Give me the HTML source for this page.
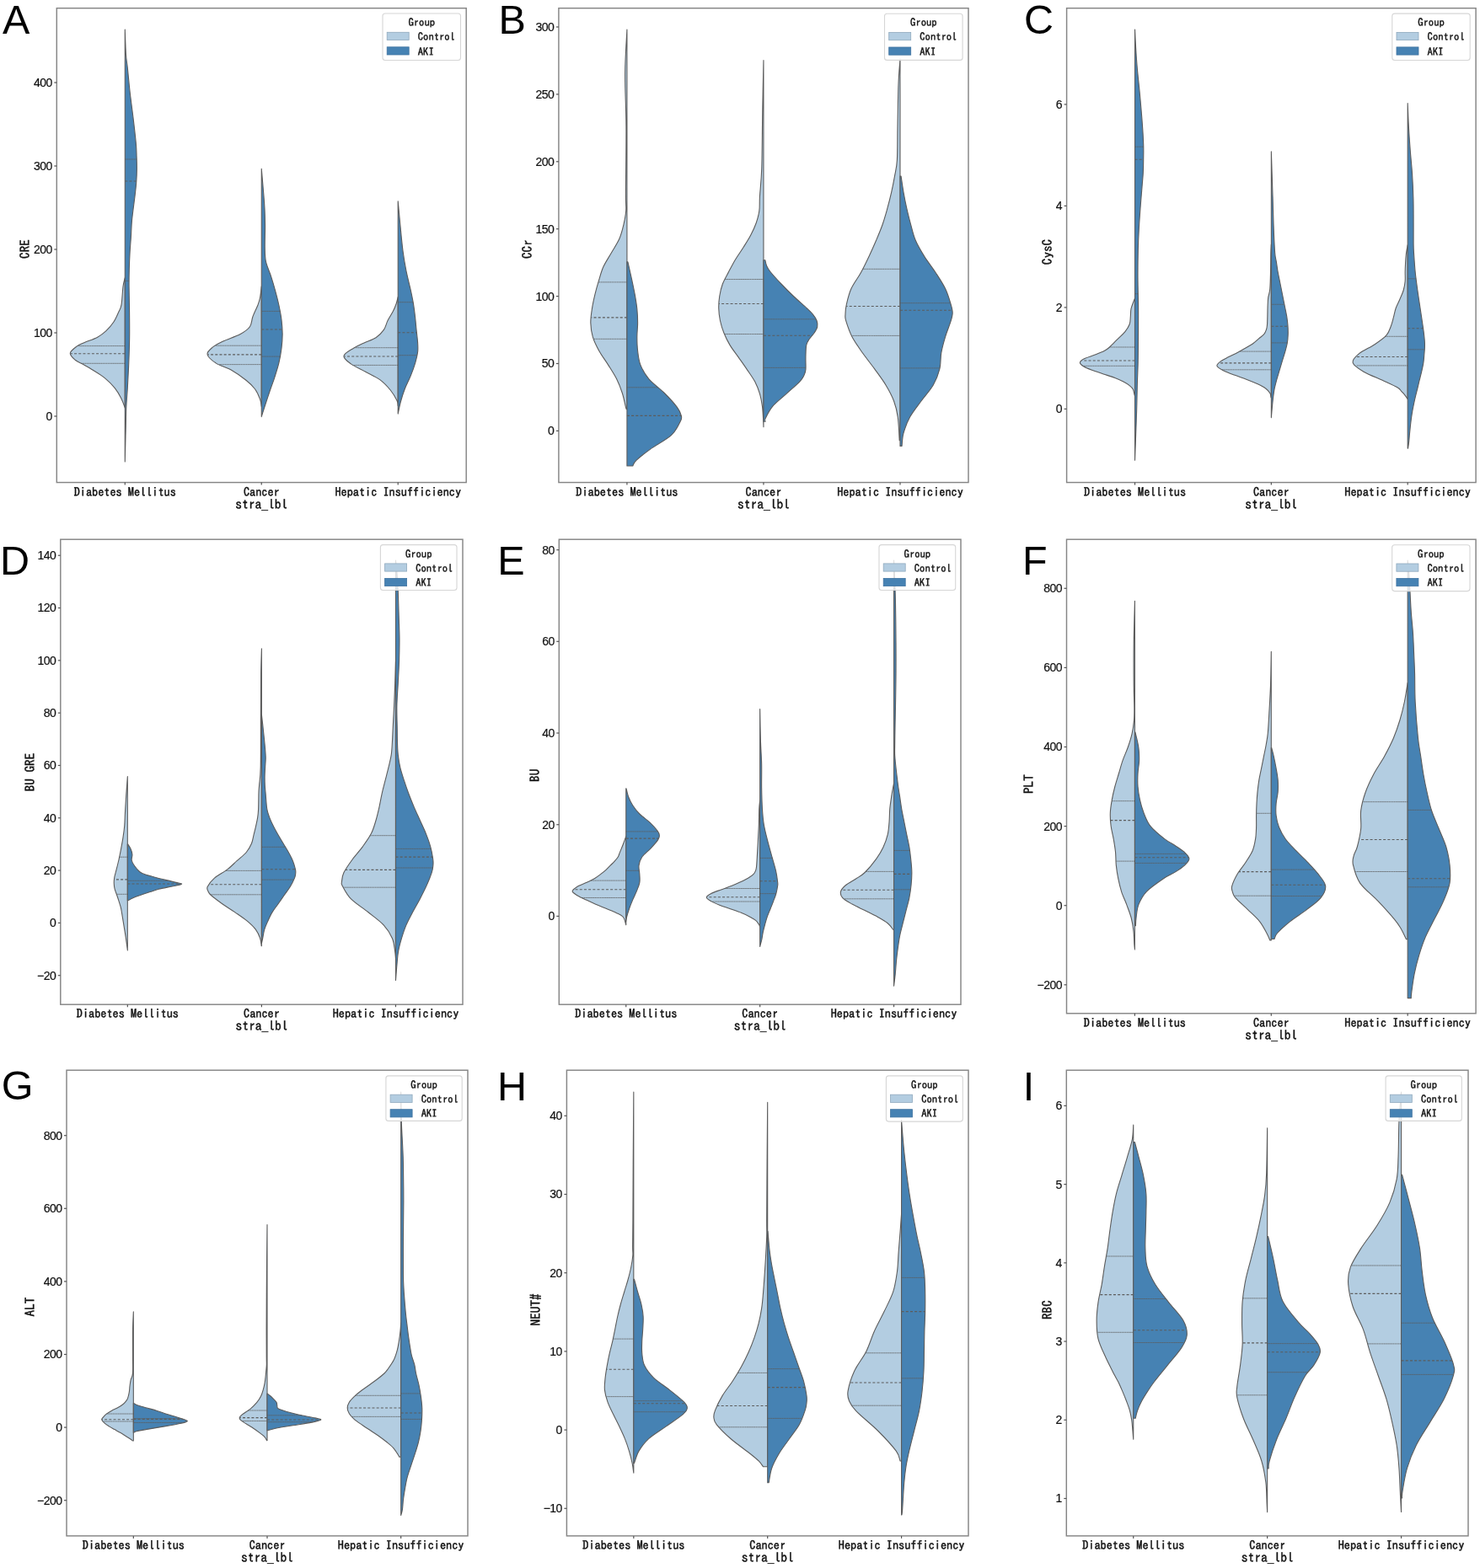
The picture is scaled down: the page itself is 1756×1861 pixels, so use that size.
<!DOCTYPE html>
<html><head><meta charset="utf-8"><title>Violin plots</title>
<style>
html,body{margin:0;padding:0;background:#fff;}
svg{display:block;}
.tk{font-family:'IPAGothic','Liberation Mono',monospace;font-size:14.25px;fill:#111;stroke:#111;stroke-width:0.45px;}
.nm{font-family:'Liberation Sans',Arial,sans-serif;font-size:14px;letter-spacing:-0.5px;fill:#111;stroke:#111;stroke-width:0.2px;}
.xl{font-family:'IPAGothic','Liberation Mono',monospace;font-size:15.5px;fill:#111;stroke:#111;stroke-width:0.45px;}
.yl{font-family:'IPAGothic','Liberation Mono',monospace;font-size:15.2px;fill:#111;stroke:#111;stroke-width:0.45px;}
.lg{font-family:'IPAGothic','Liberation Mono',monospace;font-size:12.6px;fill:#111;stroke:#111;stroke-width:0.4px;}
.pl{font-family:'Liberation Sans',Arial,sans-serif;font-size:48.5px;fill:#000;}
</style></head><body>
<svg width="1756" height="1861" viewBox="0 0 1756 1861" xmlns="http://www.w3.org/2000/svg">
<rect width="1756" height="1861" fill="#fff"/>
<path d="M148.28,329.70 L148.28,329.70 C147.90,331.45 146.68,334.93 145.98,340.20 C145.28,345.47 144.95,356.28 144.08,361.30 C143.22,366.32 142.33,366.80 140.78,370.30 C139.23,373.80 137.30,378.53 134.78,382.30 C132.27,386.07 128.93,389.88 125.68,392.90 C122.43,395.92 119.52,398.15 115.28,400.40 C111.05,402.65 104.28,404.65 100.28,406.40 C96.28,408.15 94.12,408.77 91.28,410.90 C88.45,413.03 83.57,416.43 83.28,419.20 C83.00,421.97 87.15,425.37 89.58,427.50 C92.02,429.63 94.37,430.00 97.88,432.00 C101.40,434.00 106.28,436.73 110.68,439.50 C115.08,442.27 120.02,445.08 124.28,448.60 C128.55,452.12 133.03,456.58 136.28,460.60 C139.53,464.62 141.78,468.80 143.78,472.70 C145.78,476.60 147.53,482.12 148.28,484.00 L148.28,484.00 Z" fill="#b3cde1" stroke="#5c5c5c" stroke-width="1.1" stroke-linejoin="round"/>
<path d="M148.28,35.00 L148.28,35.00 C148.48,40.03 148.98,57.67 149.48,65.20 C149.98,72.73 150.48,72.68 151.28,80.20 C152.08,87.72 153.15,100.27 154.28,110.30 C155.42,120.33 156.90,130.37 158.08,140.40 C159.27,150.43 160.72,162.97 161.38,170.50 C162.05,178.03 161.92,180.58 162.08,185.60 C162.25,190.62 162.43,195.58 162.38,200.60 C162.33,205.62 162.13,210.68 161.78,215.70 C161.43,220.72 161.15,223.18 160.28,230.70 C159.42,238.22 157.38,252.58 156.58,260.80 C155.78,269.02 155.90,273.47 155.48,280.00 C155.07,286.53 154.45,293.33 154.08,300.00 C153.72,306.67 153.45,313.30 153.28,320.00 C153.12,326.70 153.03,331.82 153.08,340.20 C153.13,348.58 153.48,360.27 153.58,370.30 C153.68,380.33 153.82,390.37 153.68,400.40 C153.55,410.43 153.18,420.47 152.78,430.50 C152.38,440.53 151.78,451.82 151.28,460.60 C150.78,469.38 150.12,475.67 149.78,483.20 C149.45,490.73 149.53,495.02 149.28,505.80 C149.03,516.58 148.45,540.88 148.28,547.90 L148.28,547.90 Z" fill="#4682b3" stroke="#5c5c5c" stroke-width="1.1" stroke-linejoin="round"/>
<line x1="148.28" y1="410.60" x2="91.88" y2="410.60" stroke="#5c5c5c" stroke-width="1" stroke-dasharray="1.6 0.5" opacity="0.8"/><line x1="148.28" y1="419.70" x2="83.66" y2="419.70" stroke="#5c5c5c" stroke-width="1.1" stroke-dasharray="3 2.2"/><line x1="148.28" y1="431.30" x2="96.59" y2="431.30" stroke="#5c5c5c" stroke-width="1" stroke-dasharray="1.6 0.5" opacity="0.8"/>
<line x1="148.28" y1="189.00" x2="162.15" y2="189.00" stroke="#5c5c5c" stroke-width="1" stroke-dasharray="1.6 0.5" opacity="0.8"/><line x1="148.28" y1="215.00" x2="161.81" y2="215.00" stroke="#5c5c5c" stroke-width="1.1" stroke-dasharray="3 2.2"/><line x1="148.28" y1="333.40" x2="153.15" y2="333.40" stroke="#5c5c5c" stroke-width="1" stroke-dasharray="1.6 0.5" opacity="0.8"/>
<path d="M310.25,339.70 L310.25,339.70 C309.97,341.98 309.27,349.68 308.55,353.40 C307.83,357.12 307.38,358.27 305.95,362.00 C304.52,365.73 301.53,371.50 299.95,375.80 C298.37,380.10 298.90,384.35 296.45,387.80 C294.00,391.25 290.55,393.63 285.25,396.50 C279.95,399.37 270.08,402.43 264.65,405.00 C259.22,407.57 255.75,409.32 252.65,411.90 C249.55,414.48 245.48,417.33 246.05,420.50 C246.62,423.67 251.23,427.73 256.05,430.90 C260.87,434.07 268.92,436.07 274.95,439.50 C280.98,442.93 287.65,447.78 292.25,451.50 C296.85,455.22 299.83,458.07 302.55,461.80 C305.27,465.53 307.27,470.45 308.55,473.90 C309.83,477.35 309.97,481.07 310.25,482.50 L310.25,482.50 Z" fill="#b3cde1" stroke="#5c5c5c" stroke-width="1.1" stroke-linejoin="round"/>
<path d="M310.25,200.30 L310.25,200.30 C310.82,207.18 312.93,230.42 313.65,241.60 C314.37,252.78 314.45,258.80 314.55,267.40 C314.65,276.00 314.10,286.03 314.25,293.20 C314.40,300.37 314.25,304.67 315.45,310.40 C316.65,316.13 319.60,321.87 321.45,327.60 C323.30,333.33 324.98,339.07 326.55,344.80 C328.12,350.53 329.62,356.27 330.85,362.00 C332.08,367.73 333.23,373.45 333.95,379.20 C334.67,384.95 335.15,390.75 335.15,396.50 C335.15,402.25 334.67,407.97 333.95,413.70 C333.23,419.43 332.22,425.17 330.85,430.90 C329.48,436.63 327.60,442.37 325.75,448.10 C323.90,453.83 321.70,459.57 319.75,465.30 C317.80,471.03 315.63,477.62 314.05,482.50 C312.47,487.38 310.88,492.58 310.25,494.60 L310.25,494.60 Z" fill="#4682b3" stroke="#5c5c5c" stroke-width="1.1" stroke-linejoin="round"/>
<line x1="310.25" y1="410.20" x2="255.61" y2="410.20" stroke="#5c5c5c" stroke-width="1" stroke-dasharray="1.6 0.5" opacity="0.8"/><line x1="310.25" y1="420.90" x2="246.43" y2="420.90" stroke="#5c5c5c" stroke-width="1.1" stroke-dasharray="3 2.2"/><line x1="310.25" y1="432.60" x2="259.79" y2="432.60" stroke="#5c5c5c" stroke-width="1" stroke-dasharray="1.6 0.5" opacity="0.8"/>
<line x1="310.25" y1="369.40" x2="332.18" y2="369.40" stroke="#5c5c5c" stroke-width="1" stroke-dasharray="1.6 0.5" opacity="0.8"/><line x1="310.25" y1="391.00" x2="334.77" y2="391.00" stroke="#5c5c5c" stroke-width="1.1" stroke-dasharray="3 2.2"/><line x1="310.25" y1="423.10" x2="332.26" y2="423.10" stroke="#5c5c5c" stroke-width="1" stroke-dasharray="1.6 0.5" opacity="0.8"/>
<path d="M472.22,352.40 L472.22,352.40 C471.88,353.70 471.20,357.33 470.22,360.20 C469.23,363.07 468.02,366.22 466.32,369.60 C464.62,372.98 461.83,376.87 460.02,380.50 C458.20,384.13 457.75,388.03 455.42,391.40 C453.08,394.77 449.92,398.12 446.02,400.70 C442.12,403.28 436.43,404.82 432.02,406.90 C427.60,408.98 423.53,410.60 419.52,413.20 C415.50,415.80 408.43,419.38 407.92,422.50 C407.40,425.62 412.13,428.78 416.42,431.90 C420.70,435.02 427.90,438.08 433.62,441.20 C439.33,444.32 445.78,446.97 450.72,450.60 C455.65,454.23 459.83,458.85 463.22,463.00 C466.60,467.15 469.52,472.38 471.02,475.50 C472.52,478.62 472.02,480.67 472.22,481.70 L472.22,481.70 Z" fill="#b3cde1" stroke="#5c5c5c" stroke-width="1.1" stroke-linejoin="round"/>
<path d="M472.22,238.70 L472.22,238.70 C472.65,243.37 473.85,256.83 474.82,266.70 C475.78,276.57 476.83,288.80 478.02,297.90 C479.20,307.00 480.37,313.52 481.92,321.30 C483.47,329.08 485.90,338.12 487.32,344.60 C488.73,351.08 489.55,355.00 490.42,360.20 C491.28,365.40 491.92,370.60 492.52,375.80 C493.12,381.00 493.50,386.22 494.02,391.40 C494.53,396.58 495.35,402.50 495.62,406.90 C495.88,411.30 496.08,413.90 495.62,417.80 C495.15,421.70 494.20,425.62 492.82,430.30 C491.43,434.98 489.40,440.70 487.32,445.90 C485.23,451.10 482.32,456.32 480.32,461.50 C478.32,466.68 476.67,472.07 475.32,477.00 C473.97,481.93 472.73,488.75 472.22,491.10 L472.22,491.10 Z" fill="#4682b3" stroke="#5c5c5c" stroke-width="1.1" stroke-linejoin="round"/>
<line x1="472.22" y1="412.70" x2="420.51" y2="412.70" stroke="#5c5c5c" stroke-width="1" stroke-dasharray="1.6 0.5" opacity="0.8"/><line x1="472.22" y1="423.00" x2="408.37" y2="423.00" stroke="#5c5c5c" stroke-width="1.1" stroke-dasharray="3 2.2"/><line x1="472.22" y1="433.40" x2="419.19" y2="433.40" stroke="#5c5c5c" stroke-width="1" stroke-dasharray="1.6 0.5" opacity="0.8"/>
<line x1="472.22" y1="358.70" x2="490.12" y2="358.70" stroke="#5c5c5c" stroke-width="1" stroke-dasharray="1.6 0.5" opacity="0.8"/><line x1="472.22" y1="394.80" x2="494.37" y2="394.80" stroke="#5c5c5c" stroke-width="1.1" stroke-dasharray="3 2.2"/><line x1="472.22" y1="421.70" x2="494.74" y2="421.70" stroke="#5c5c5c" stroke-width="1" stroke-dasharray="1.6 0.5" opacity="0.8"/>
<rect x="67.30" y="9.70" width="485.90" height="562.90" fill="none" stroke="#858585" stroke-width="1.45"/>
<line x1="64.30" y1="494.00" x2="67.30" y2="494.00" stroke="#555" stroke-width="1.2"/>
<text x="61.80" y="498.90" text-anchor="end" class="nm">0</text>
<line x1="64.30" y1="395.00" x2="67.30" y2="395.00" stroke="#555" stroke-width="1.2"/>
<text x="61.80" y="399.90" text-anchor="end" class="nm">100</text>
<line x1="64.30" y1="296.00" x2="67.30" y2="296.00" stroke="#555" stroke-width="1.2"/>
<text x="61.80" y="300.90" text-anchor="end" class="nm">200</text>
<line x1="64.30" y1="197.00" x2="67.30" y2="197.00" stroke="#555" stroke-width="1.2"/>
<text x="61.80" y="201.90" text-anchor="end" class="nm">300</text>
<line x1="64.30" y1="98.00" x2="67.30" y2="98.00" stroke="#555" stroke-width="1.2"/>
<text x="61.80" y="102.90" text-anchor="end" class="nm">400</text>
<line x1="148.28" y1="572.60" x2="148.28" y2="575.60" stroke="#555" stroke-width="1.2"/>
<text x="148.28" y="588.50" text-anchor="middle" class="tk">Diabetes Mellitus</text>
<line x1="310.25" y1="572.60" x2="310.25" y2="575.60" stroke="#555" stroke-width="1.2"/>
<text x="310.25" y="588.50" text-anchor="middle" class="tk">Cancer</text>
<line x1="472.22" y1="572.60" x2="472.22" y2="575.60" stroke="#555" stroke-width="1.2"/>
<text x="472.22" y="588.50" text-anchor="middle" class="tk">Hepatic Insufficiency</text>
<text x="310.25" y="603.60" text-anchor="middle" class="xl">stra_lbl</text>
<text transform="translate(34.50,295.50) rotate(-90)" text-anchor="middle" class="yl">CRE</text>
<rect x="454.00" y="16.00" width="92.50" height="55.50" rx="3" ry="3" fill="#fff" fill-opacity="0.8" stroke="#d6d6d6" stroke-width="1.1"/>
<text x="500.25" y="31.20" text-anchor="middle" class="lg">Group</text>
<rect x="459.20" y="38.30" width="26" height="9.2" fill="#b3cde1" stroke="#8fa9bd" stroke-width="0.8"/>
<rect x="459.20" y="55.80" width="26" height="9.2" fill="#4682b3" stroke="#3f73a0" stroke-width="0.8"/>
<text x="495.80" y="48.20" class="lg">Control</text>
<text x="495.80" y="65.50" class="lg">AKI</text>
<text x="3.00" y="40.40" class="pl">A</text>
<path d="M743.92,35.00 L743.92,35.00 C743.53,43.67 741.78,67.83 741.62,87.00 C741.45,106.17 742.78,126.17 742.92,150.00 C743.05,173.83 742.45,213.33 742.42,230.00 C742.38,246.67 743.13,243.88 742.72,250.00 C742.30,256.12 741.22,261.15 739.92,266.70 C738.62,272.25 737.33,277.75 734.92,283.30 C732.50,288.85 728.58,294.45 725.42,300.00 C722.25,305.55 718.42,311.07 715.92,316.60 C713.42,322.13 712.10,327.65 710.42,333.20 C708.73,338.75 707.15,344.33 705.82,349.90 C704.48,355.47 703.25,361.05 702.42,366.60 C701.58,372.15 700.67,377.65 700.82,383.20 C700.97,388.75 701.65,394.35 703.32,399.90 C704.98,405.45 707.77,410.97 710.82,416.50 C713.87,422.03 718.15,427.55 721.62,433.10 C725.08,438.65 728.83,444.23 731.62,449.80 C734.40,455.37 736.52,460.95 738.32,466.50 C740.12,472.05 741.62,479.92 742.42,483.10 C743.22,486.28 743.00,485.18 743.12,485.60 L743.92,485.60 Z" fill="#b3cde1" stroke="#5c5c5c" stroke-width="1.1" stroke-linejoin="round"/>
<path d="M743.92,310.80 L744.92,310.80 C745.75,314.53 748.52,326.68 749.92,333.20 C751.32,339.72 752.33,344.33 753.32,349.90 C754.30,355.47 755.27,361.05 755.82,366.60 C756.37,372.15 756.62,377.65 756.62,383.20 C756.62,388.75 755.82,394.35 755.82,399.90 C755.82,405.45 755.93,410.97 756.62,416.50 C757.30,422.03 757.70,427.55 759.92,433.10 C762.13,438.65 765.18,444.23 769.92,449.80 C774.65,455.37 782.77,460.95 788.32,466.50 C793.87,472.05 799.90,478.67 803.22,483.10 C806.53,487.53 807.52,490.32 808.22,493.10 C808.92,495.88 809.35,495.92 807.42,499.80 C805.48,503.68 802.58,510.85 796.62,516.40 C790.65,521.95 778.57,528.10 771.62,533.10 C764.67,538.10 758.38,543.08 754.92,546.40 C751.45,549.72 751.50,551.90 750.82,553.00 L743.92,553.00 Z" fill="#4682b3" stroke="#5c5c5c" stroke-width="1.1" stroke-linejoin="round"/>
<line x1="743.92" y1="334.90" x2="709.95" y2="334.90" stroke="#5c5c5c" stroke-width="1" stroke-dasharray="1.6 0.5" opacity="0.8"/><line x1="743.92" y1="376.90" x2="701.42" y2="376.90" stroke="#5c5c5c" stroke-width="1.1" stroke-dasharray="3 2.2"/><line x1="743.92" y1="402.30" x2="704.40" y2="402.30" stroke="#5c5c5c" stroke-width="1" stroke-dasharray="1.6 0.5" opacity="0.8"/>
<line x1="743.92" y1="459.80" x2="780.93" y2="459.80" stroke="#5c5c5c" stroke-width="1" stroke-dasharray="1.6 0.5" opacity="0.8"/><line x1="743.92" y1="493.40" x2="808.18" y2="493.40" stroke="#5c5c5c" stroke-width="1.1" stroke-dasharray="3 2.2"/>
<path d="M905.95,71.60 L905.95,71.60 C905.75,81.83 905.12,111.60 904.75,133.00 C904.38,154.40 904.30,183.33 903.75,200.00 C903.20,216.67 901.93,224.67 901.45,233.00 C900.97,241.33 901.55,244.75 900.85,250.00 C900.15,255.25 898.93,259.67 897.25,264.50 C895.57,269.33 893.28,274.17 890.75,279.00 C888.22,283.83 885.08,288.67 882.05,293.50 C879.02,298.33 875.45,303.17 872.55,308.00 C869.65,312.83 867.18,317.67 864.65,322.50 C862.12,327.33 859.17,332.17 857.35,337.00 C855.53,341.83 854.52,346.67 853.75,351.50 C852.98,356.33 852.63,361.17 852.75,366.00 C852.87,370.83 853.43,375.67 854.45,380.50 C855.47,385.33 856.92,390.15 858.85,395.00 C860.78,399.85 863.15,404.75 866.05,409.60 C868.95,414.45 872.87,419.27 876.25,424.10 C879.63,428.93 883.10,433.77 886.35,438.60 C889.60,443.43 893.22,448.27 895.75,453.10 C898.28,457.93 900.10,462.77 901.55,467.60 C903.00,472.43 903.78,477.27 904.45,482.10 C905.12,486.93 905.30,492.50 905.55,496.60 C905.80,500.70 905.88,505.02 905.95,506.70 L905.95,506.70 Z" fill="#b3cde1" stroke="#5c5c5c" stroke-width="1.1" stroke-linejoin="round"/>
<path d="M905.95,308.70 L907.85,308.70 C908.13,309.80 908.53,313.00 909.55,315.30 C910.57,317.60 911.05,318.88 913.95,322.50 C916.85,326.12 922.37,332.17 926.95,337.00 C931.53,341.83 936.37,346.67 941.45,351.50 C946.53,356.33 953.58,362.37 957.45,366.00 C961.32,369.63 962.72,370.88 964.65,373.30 C966.58,375.72 968.20,378.08 969.05,380.50 C969.90,382.92 970.23,385.38 969.75,387.80 C969.27,390.22 967.72,392.58 966.15,395.00 C964.58,397.42 961.92,399.87 960.35,402.30 C958.78,404.73 957.48,405.97 956.75,409.60 C956.02,413.23 956.08,419.27 955.95,424.10 C955.82,428.93 956.30,434.98 955.95,438.60 C955.60,442.22 955.05,443.38 953.85,445.80 C952.65,448.22 952.27,449.47 948.75,453.10 C945.23,456.73 938.07,462.77 932.75,467.60 C927.43,472.43 920.95,477.27 916.85,482.10 C912.75,486.93 909.60,493.58 908.15,496.60 C906.70,499.62 908.15,499.60 908.15,500.20 L905.95,500.20 Z" fill="#4682b3" stroke="#5c5c5c" stroke-width="1.1" stroke-linejoin="round"/>
<line x1="905.95" y1="331.50" x2="860.12" y2="331.50" stroke="#5c5c5c" stroke-width="1" stroke-dasharray="1.6 0.5" opacity="0.8"/><line x1="905.95" y1="360.50" x2="853.13" y2="360.50" stroke="#5c5c5c" stroke-width="1.1" stroke-dasharray="3 2.2"/><line x1="905.95" y1="396.50" x2="859.59" y2="396.50" stroke="#5c5c5c" stroke-width="1" stroke-dasharray="1.6 0.5" opacity="0.8"/>
<line x1="905.95" y1="378.80" x2="968.01" y2="378.80" stroke="#5c5c5c" stroke-width="1" stroke-dasharray="1.6 0.5" opacity="0.8"/><line x1="905.95" y1="398.20" x2="963.61" y2="398.20" stroke="#5c5c5c" stroke-width="1.1" stroke-dasharray="3 2.2"/><line x1="905.95" y1="436.40" x2="955.95" y2="436.40" stroke="#5c5c5c" stroke-width="1" stroke-dasharray="1.6 0.5" opacity="0.8"/>
<path d="M1067.98,70.00 L1067.98,70.00 C1067.65,75.00 1066.48,86.67 1065.98,100.00 C1065.48,113.33 1065.25,135.00 1064.98,150.00 C1064.72,165.00 1064.97,180.15 1064.38,190.00 C1063.80,199.85 1062.60,202.75 1061.48,209.10 C1060.37,215.45 1059.12,221.75 1057.68,228.10 C1056.25,234.45 1054.63,240.83 1052.88,247.20 C1051.13,253.57 1049.40,259.95 1047.18,266.30 C1044.97,272.65 1042.28,278.95 1039.58,285.30 C1036.88,291.65 1034.00,298.03 1030.98,304.40 C1027.97,310.77 1024.98,317.13 1021.48,323.50 C1017.98,329.87 1012.85,336.25 1009.98,342.60 C1007.12,348.95 1005.45,356.52 1004.28,361.60 C1003.12,366.68 1003.08,369.92 1002.98,373.10 C1002.88,376.28 1002.35,376.25 1003.68,380.70 C1005.02,385.15 1007.70,393.45 1010.98,399.80 C1014.27,406.15 1018.93,412.45 1023.38,418.80 C1027.83,425.15 1033.08,431.53 1037.68,437.90 C1042.28,444.27 1047.17,450.65 1050.98,457.00 C1054.80,463.35 1058.20,469.65 1060.58,476.00 C1062.97,482.35 1064.18,487.30 1065.28,495.10 C1066.38,502.90 1066.87,518.18 1067.18,522.80 L1067.98,522.80 Z" fill="#b3cde1" stroke="#5c5c5c" stroke-width="1.1" stroke-linejoin="round"/>
<path d="M1067.98,209.10 L1069.08,209.10 C1069.57,212.27 1070.87,221.75 1071.98,228.10 C1073.10,234.45 1074.35,240.83 1075.78,247.20 C1077.22,253.57 1078.83,259.95 1080.58,266.30 C1082.33,272.65 1083.58,278.95 1086.28,285.30 C1088.98,291.65 1092.82,298.03 1096.78,304.40 C1100.75,310.77 1105.95,317.13 1110.08,323.50 C1114.22,329.87 1118.55,336.25 1121.58,342.60 C1124.62,348.95 1126.85,356.83 1128.28,361.60 C1129.72,366.37 1130.18,368.02 1130.18,371.20 C1130.18,374.38 1129.72,375.93 1128.28,380.70 C1126.85,385.47 1123.50,393.45 1121.58,399.80 C1119.67,406.15 1117.90,412.45 1116.78,418.80 C1115.67,425.15 1116.47,431.53 1114.88,437.90 C1113.30,444.27 1110.93,450.65 1107.28,457.00 C1103.63,463.35 1097.60,469.65 1092.98,476.00 C1088.37,482.35 1083.08,488.73 1079.58,495.10 C1076.08,501.47 1073.57,508.48 1071.98,514.20 C1070.40,519.92 1070.40,526.87 1070.08,529.40 L1067.98,529.40 Z" fill="#4682b3" stroke="#5c5c5c" stroke-width="1.1" stroke-linejoin="round"/>
<line x1="1067.98" y1="319.30" x2="1023.57" y2="319.30" stroke="#5c5c5c" stroke-width="1" stroke-dasharray="1.6 0.5" opacity="0.8"/><line x1="1067.98" y1="363.50" x2="1004.07" y2="363.50" stroke="#5c5c5c" stroke-width="1.1" stroke-dasharray="3 2.2"/><line x1="1067.98" y1="398.40" x2="1010.45" y2="398.40" stroke="#5c5c5c" stroke-width="1" stroke-dasharray="1.6 0.5" opacity="0.8"/>
<line x1="1067.98" y1="359.70" x2="1127.61" y2="359.70" stroke="#5c5c5c" stroke-width="1" stroke-dasharray="1.6 0.5" opacity="0.8"/><line x1="1067.98" y1="368.30" x2="1129.61" y2="368.30" stroke="#5c5c5c" stroke-width="1.1" stroke-dasharray="3 2.2"/><line x1="1067.98" y1="436.90" x2="1114.98" y2="436.90" stroke="#5c5c5c" stroke-width="1" stroke-dasharray="1.6 0.5" opacity="0.8"/>
<rect x="662.90" y="9.70" width="486.10" height="562.90" fill="none" stroke="#858585" stroke-width="1.45"/>
<line x1="659.90" y1="511.40" x2="662.90" y2="511.40" stroke="#555" stroke-width="1.2"/>
<text x="657.40" y="516.30" text-anchor="end" class="nm">0</text>
<line x1="659.90" y1="431.50" x2="662.90" y2="431.50" stroke="#555" stroke-width="1.2"/>
<text x="657.40" y="436.40" text-anchor="end" class="nm">50</text>
<line x1="659.90" y1="351.60" x2="662.90" y2="351.60" stroke="#555" stroke-width="1.2"/>
<text x="657.40" y="356.50" text-anchor="end" class="nm">100</text>
<line x1="659.90" y1="271.70" x2="662.90" y2="271.70" stroke="#555" stroke-width="1.2"/>
<text x="657.40" y="276.60" text-anchor="end" class="nm">150</text>
<line x1="659.90" y1="191.80" x2="662.90" y2="191.80" stroke="#555" stroke-width="1.2"/>
<text x="657.40" y="196.70" text-anchor="end" class="nm">200</text>
<line x1="659.90" y1="111.90" x2="662.90" y2="111.90" stroke="#555" stroke-width="1.2"/>
<text x="657.40" y="116.80" text-anchor="end" class="nm">250</text>
<line x1="659.90" y1="32.00" x2="662.90" y2="32.00" stroke="#555" stroke-width="1.2"/>
<text x="657.40" y="36.90" text-anchor="end" class="nm">300</text>
<line x1="743.92" y1="572.60" x2="743.92" y2="575.60" stroke="#555" stroke-width="1.2"/>
<text x="743.92" y="588.50" text-anchor="middle" class="tk">Diabetes Mellitus</text>
<line x1="905.95" y1="572.60" x2="905.95" y2="575.60" stroke="#555" stroke-width="1.2"/>
<text x="905.95" y="588.50" text-anchor="middle" class="tk">Cancer</text>
<line x1="1067.98" y1="572.60" x2="1067.98" y2="575.60" stroke="#555" stroke-width="1.2"/>
<text x="1067.98" y="588.50" text-anchor="middle" class="tk">Hepatic Insufficiency</text>
<text x="905.95" y="603.60" text-anchor="middle" class="xl">stra_lbl</text>
<text transform="translate(631.00,295.70) rotate(-90)" text-anchor="middle" class="yl">CCr</text>
<rect x="1049.50" y="16.20" width="92.60" height="55.20" rx="3" ry="3" fill="#fff" fill-opacity="0.8" stroke="#d6d6d6" stroke-width="1.1"/>
<text x="1095.80" y="31.40" text-anchor="middle" class="lg">Group</text>
<rect x="1054.70" y="38.50" width="26" height="9.2" fill="#b3cde1" stroke="#8fa9bd" stroke-width="0.8"/>
<rect x="1054.70" y="56.00" width="26" height="9.2" fill="#4682b3" stroke="#3f73a0" stroke-width="0.8"/>
<text x="1091.30" y="48.40" class="lg">Control</text>
<text x="1091.30" y="65.70" class="lg">AKI</text>
<text x="591.50" y="40.40" class="pl">B</text>
<path d="M1346.52,354.10 L1346.52,354.10 C1346.30,354.63 1345.97,355.25 1345.22,357.30 C1344.47,359.35 1342.67,363.35 1342.02,366.40 C1341.37,369.45 1341.62,372.55 1341.32,375.60 C1341.02,378.65 1341.32,381.67 1340.22,384.70 C1339.12,387.73 1337.15,390.77 1334.72,393.80 C1332.28,396.83 1328.65,399.87 1325.62,402.90 C1322.58,405.93 1319.10,409.72 1316.52,412.00 C1313.93,414.28 1313.00,415.08 1310.12,416.60 C1307.23,418.12 1303.17,419.58 1299.22,421.10 C1295.27,422.62 1289.38,424.18 1286.42,425.70 C1283.45,427.22 1281.57,428.68 1281.42,430.20 C1281.27,431.72 1283.17,433.28 1285.52,434.80 C1287.87,436.32 1291.57,437.78 1295.52,439.30 C1299.47,440.82 1304.67,442.37 1309.22,443.90 C1313.77,445.43 1318.87,446.98 1322.82,448.50 C1326.77,450.02 1330.02,451.48 1332.92,453.00 C1335.82,454.52 1338.32,456.08 1340.22,457.60 C1342.12,459.12 1343.32,460.13 1344.32,462.10 C1345.32,464.07 1345.90,468.18 1346.22,469.40 L1346.52,469.40 Z" fill="#b3cde1" stroke="#5c5c5c" stroke-width="1.1" stroke-linejoin="round"/>
<path d="M1346.52,35.00 L1346.52,35.00 C1346.68,38.33 1347.07,47.50 1347.52,55.00 C1347.97,62.50 1348.38,70.28 1349.22,80.00 C1350.05,89.72 1351.50,102.18 1352.52,113.30 C1353.53,124.42 1354.62,136.97 1355.32,146.70 C1356.02,156.43 1356.48,164.77 1356.72,171.70 C1356.95,178.63 1356.78,182.75 1356.72,188.30 C1356.65,193.85 1356.60,199.43 1356.32,205.00 C1356.03,210.57 1355.57,214.75 1355.02,221.70 C1354.47,228.65 1353.63,238.37 1353.02,246.70 C1352.40,255.03 1351.77,263.37 1351.32,271.70 C1350.87,280.03 1350.53,286.98 1350.32,296.70 C1350.10,306.42 1349.97,318.45 1350.02,330.00 C1350.07,341.55 1350.53,354.33 1350.62,366.00 C1350.70,377.67 1350.58,389.33 1350.52,400.00 C1350.45,410.67 1350.42,420.50 1350.22,430.00 C1350.02,439.50 1349.55,448.67 1349.32,457.00 C1349.08,465.33 1349.00,472.83 1348.82,480.00 C1348.63,487.17 1348.60,488.95 1348.22,500.00 C1347.83,511.05 1346.80,538.58 1346.52,546.30 L1346.52,546.30 Z" fill="#4682b3" stroke="#5c5c5c" stroke-width="1.1" stroke-linejoin="round"/>
<line x1="1346.52" y1="412.00" x2="1316.52" y2="412.00" stroke="#5c5c5c" stroke-width="1" stroke-dasharray="1.6 0.5" opacity="0.8"/><line x1="1346.52" y1="428.00" x2="1283.86" y2="428.00" stroke="#5c5c5c" stroke-width="1.1" stroke-dasharray="3 2.2"/><line x1="1346.52" y1="434.30" x2="1285.07" y2="434.30" stroke="#5c5c5c" stroke-width="1" stroke-dasharray="1.6 0.5" opacity="0.8"/>
<line x1="1346.52" y1="174.20" x2="1356.72" y2="174.20" stroke="#5c5c5c" stroke-width="1" stroke-dasharray="1.6 0.5" opacity="0.8"/><line x1="1346.52" y1="189.20" x2="1356.70" y2="189.20" stroke="#5c5c5c" stroke-width="1.1" stroke-dasharray="3 2.2"/><line x1="1346.52" y1="348.70" x2="1350.33" y2="348.70" stroke="#5c5c5c" stroke-width="1" stroke-dasharray="1.6 0.5" opacity="0.8"/>
<path d="M1508.35,290.00 L1508.35,290.00 C1508.27,291.67 1507.98,294.75 1507.85,300.00 C1507.72,305.25 1507.73,314.33 1507.55,321.50 C1507.37,328.67 1507.23,337.63 1506.75,343.00 C1506.27,348.37 1505.10,350.12 1504.65,353.70 C1504.20,357.28 1504.18,360.92 1504.05,364.50 C1503.92,368.08 1503.95,371.62 1503.85,375.20 C1503.75,378.78 1503.68,383.32 1503.45,386.00 C1503.22,388.68 1503.07,389.52 1502.45,391.30 C1501.83,393.08 1501.27,394.90 1499.75,396.70 C1498.23,398.50 1495.48,400.30 1493.35,402.10 C1491.22,403.90 1489.45,405.72 1486.95,407.50 C1484.45,409.28 1481.40,411.02 1478.35,412.80 C1475.30,414.58 1472.07,416.40 1468.65,418.20 C1465.23,420.00 1461.25,421.82 1457.85,423.60 C1454.45,425.38 1450.57,427.12 1448.25,428.90 C1445.93,430.68 1443.42,432.50 1443.95,434.30 C1444.48,436.10 1448.05,437.90 1451.45,439.70 C1454.85,441.50 1459.70,443.32 1464.35,445.10 C1469.00,446.88 1474.70,448.62 1479.35,450.40 C1484.00,452.18 1488.48,454.00 1492.25,455.80 C1496.02,457.60 1499.53,459.40 1501.95,461.20 C1504.37,463.00 1505.73,464.82 1506.75,466.60 C1507.77,468.38 1507.83,471.02 1508.05,471.90 L1508.35,471.90 Z" fill="#b3cde1" stroke="#5c5c5c" stroke-width="1.1" stroke-linejoin="round"/>
<path d="M1508.35,179.90 L1508.35,179.90 C1508.63,188.78 1509.58,218.18 1510.05,233.20 C1510.52,248.22 1510.72,258.87 1511.15,270.00 C1511.58,281.13 1512.12,293.22 1512.65,300.00 C1513.18,306.78 1513.80,307.12 1514.35,310.70 C1514.90,314.28 1515.33,317.92 1515.95,321.50 C1516.57,325.08 1517.33,328.62 1518.05,332.20 C1518.77,335.78 1519.53,339.42 1520.25,343.00 C1520.97,346.58 1521.63,350.12 1522.35,353.70 C1523.07,357.28 1523.83,360.92 1524.55,364.50 C1525.27,368.08 1526.08,371.62 1526.65,375.20 C1527.22,378.78 1527.68,382.42 1527.95,386.00 C1528.22,389.58 1528.37,393.12 1528.25,396.70 C1528.13,400.28 1527.87,403.92 1527.25,407.50 C1526.63,411.08 1525.55,414.63 1524.55,418.20 C1523.55,421.77 1522.33,425.32 1521.25,428.90 C1520.17,432.48 1519.12,436.12 1518.05,439.70 C1516.98,443.28 1515.83,446.82 1514.85,450.40 C1513.87,453.98 1512.87,457.62 1512.15,461.20 C1511.43,464.78 1511.00,468.32 1510.55,471.90 C1510.10,475.48 1509.82,478.75 1509.45,482.70 C1509.08,486.65 1508.53,493.45 1508.35,495.60 L1508.35,495.60 Z" fill="#4682b3" stroke="#5c5c5c" stroke-width="1.1" stroke-linejoin="round"/>
<line x1="1508.35" y1="417.10" x2="1470.63" y2="417.10" stroke="#5c5c5c" stroke-width="1" stroke-dasharray="1.6 0.5" opacity="0.8"/><line x1="1508.35" y1="430.90" x2="1446.66" y2="430.90" stroke="#5c5c5c" stroke-width="1.1" stroke-dasharray="3 2.2"/><line x1="1508.35" y1="438.80" x2="1450.20" y2="438.80" stroke="#5c5c5c" stroke-width="1" stroke-dasharray="1.6 0.5" opacity="0.8"/>
<line x1="1508.35" y1="361.30" x2="1523.90" y2="361.30" stroke="#5c5c5c" stroke-width="1" stroke-dasharray="1.6 0.5" opacity="0.8"/><line x1="1508.35" y1="387.30" x2="1527.99" y2="387.30" stroke="#5c5c5c" stroke-width="1.1" stroke-dasharray="3 2.2"/><line x1="1508.35" y1="406.90" x2="1527.31" y2="406.90" stroke="#5c5c5c" stroke-width="1" stroke-dasharray="1.6 0.5" opacity="0.8"/>
<path d="M1670.18,290.70 L1670.18,290.70 C1669.88,292.50 1668.82,297.92 1668.38,301.50 C1667.95,305.08 1667.78,308.62 1667.58,312.20 C1667.38,315.78 1667.25,319.42 1667.18,323.00 C1667.12,326.58 1667.52,330.12 1667.18,333.70 C1666.85,337.28 1666.23,340.92 1665.18,344.50 C1664.13,348.08 1662.40,351.62 1660.88,355.20 C1659.37,358.78 1657.33,362.42 1656.08,366.00 C1654.83,369.58 1654.37,373.12 1653.38,376.70 C1652.40,380.28 1651.62,383.92 1650.18,387.50 C1648.75,391.08 1648.02,394.62 1644.78,398.20 C1641.55,401.78 1636.15,405.42 1630.78,409.00 C1625.42,412.58 1616.87,416.13 1612.58,419.70 C1608.30,423.27 1604.18,426.82 1605.08,430.40 C1605.98,433.98 1611.90,437.62 1617.98,441.20 C1624.07,444.78 1634.87,448.77 1641.58,451.90 C1648.30,455.03 1654.73,457.88 1658.28,460.00 C1661.83,462.12 1661.43,463.08 1662.88,464.60 C1664.33,466.12 1665.77,467.58 1666.98,469.10 C1668.20,470.62 1669.65,472.93 1670.18,473.70 L1670.18,473.70 Z" fill="#b3cde1" stroke="#5c5c5c" stroke-width="1.1" stroke-linejoin="round"/>
<path d="M1670.18,122.60 L1670.18,122.60 C1670.37,126.95 1670.78,139.52 1671.28,148.70 C1671.78,157.88 1672.47,168.03 1673.18,177.70 C1673.90,187.37 1674.97,197.03 1675.58,206.70 C1676.20,216.37 1676.63,226.03 1676.88,235.70 C1677.13,245.37 1677.05,255.65 1677.08,264.70 C1677.12,273.75 1677.00,283.87 1677.08,290.00 C1677.17,296.13 1677.23,296.00 1677.58,301.50 C1677.93,307.00 1678.47,315.83 1679.18,323.00 C1679.90,330.17 1680.90,337.33 1681.88,344.50 C1682.87,351.67 1684.02,358.83 1685.08,366.00 C1686.15,373.17 1687.52,382.13 1688.28,387.50 C1689.05,392.87 1689.32,394.62 1689.68,398.20 C1690.05,401.78 1690.45,405.42 1690.48,409.00 C1690.52,412.58 1690.15,416.13 1689.88,419.70 C1689.62,423.27 1689.42,426.82 1688.88,430.40 C1688.35,433.98 1687.50,437.62 1686.68,441.20 C1685.87,444.78 1684.75,448.77 1683.98,451.90 C1683.22,455.03 1682.78,457.13 1682.08,460.00 C1681.38,462.87 1680.52,466.05 1679.78,469.10 C1679.05,472.15 1678.33,475.25 1677.68,478.30 C1677.03,481.35 1676.42,484.37 1675.88,487.40 C1675.35,490.43 1674.90,493.45 1674.48,496.50 C1674.07,499.55 1673.72,502.65 1673.38,505.70 C1673.05,508.75 1672.77,511.77 1672.48,514.80 C1672.20,517.83 1672.00,521.02 1671.68,523.90 C1671.37,526.78 1670.77,530.73 1670.58,532.10 L1670.18,532.10 Z" fill="#4682b3" stroke="#5c5c5c" stroke-width="1.1" stroke-linejoin="round"/>
<line x1="1670.18" y1="399.30" x2="1643.36" y2="399.30" stroke="#5c5c5c" stroke-width="1" stroke-dasharray="1.6 0.5" opacity="0.8"/><line x1="1670.18" y1="423.50" x2="1609.92" y2="423.50" stroke="#5c5c5c" stroke-width="1.1" stroke-dasharray="3 2.2"/><line x1="1670.18" y1="433.90" x2="1609.26" y2="433.90" stroke="#5c5c5c" stroke-width="1" stroke-dasharray="1.6 0.5" opacity="0.8"/>
<line x1="1670.18" y1="330.80" x2="1680.16" y2="330.80" stroke="#5c5c5c" stroke-width="1" stroke-dasharray="1.6 0.5" opacity="0.8"/><line x1="1670.18" y1="389.80" x2="1688.58" y2="389.80" stroke="#5c5c5c" stroke-width="1.1" stroke-dasharray="3 2.2"/><line x1="1670.18" y1="414.80" x2="1690.16" y2="414.80" stroke="#5c5c5c" stroke-width="1" stroke-dasharray="1.6 0.5" opacity="0.8"/>
<rect x="1265.60" y="9.70" width="485.50" height="562.90" fill="none" stroke="#858585" stroke-width="1.45"/>
<line x1="1262.60" y1="485.40" x2="1265.60" y2="485.40" stroke="#555" stroke-width="1.2"/>
<text x="1260.10" y="490.30" text-anchor="end" class="nm">0</text>
<line x1="1262.60" y1="364.90" x2="1265.60" y2="364.90" stroke="#555" stroke-width="1.2"/>
<text x="1260.10" y="369.80" text-anchor="end" class="nm">2</text>
<line x1="1262.60" y1="244.40" x2="1265.60" y2="244.40" stroke="#555" stroke-width="1.2"/>
<text x="1260.10" y="249.30" text-anchor="end" class="nm">4</text>
<line x1="1262.60" y1="123.90" x2="1265.60" y2="123.90" stroke="#555" stroke-width="1.2"/>
<text x="1260.10" y="128.80" text-anchor="end" class="nm">6</text>
<line x1="1346.52" y1="572.60" x2="1346.52" y2="575.60" stroke="#555" stroke-width="1.2"/>
<text x="1346.52" y="588.50" text-anchor="middle" class="tk">Diabetes Mellitus</text>
<line x1="1508.35" y1="572.60" x2="1508.35" y2="575.60" stroke="#555" stroke-width="1.2"/>
<text x="1508.35" y="588.50" text-anchor="middle" class="tk">Cancer</text>
<line x1="1670.18" y1="572.60" x2="1670.18" y2="575.60" stroke="#555" stroke-width="1.2"/>
<text x="1670.18" y="588.50" text-anchor="middle" class="tk">Hepatic Insufficiency</text>
<text x="1508.35" y="603.60" text-anchor="middle" class="xl">stra_lbl</text>
<text transform="translate(1248.00,299.00) rotate(-90)" text-anchor="middle" class="yl">CysC</text>
<rect x="1651.80" y="16.10" width="92.40" height="55.40" rx="3" ry="3" fill="#fff" fill-opacity="0.8" stroke="#d6d6d6" stroke-width="1.1"/>
<text x="1698.00" y="31.30" text-anchor="middle" class="lg">Group</text>
<rect x="1657.00" y="38.40" width="26" height="9.2" fill="#b3cde1" stroke="#8fa9bd" stroke-width="0.8"/>
<rect x="1657.00" y="55.90" width="26" height="9.2" fill="#4682b3" stroke="#3f73a0" stroke-width="0.8"/>
<text x="1693.60" y="48.30" class="lg">Control</text>
<text x="1693.60" y="65.60" class="lg">AKI</text>
<text x="1214.90" y="40.20" class="pl">C</text>
<path d="M151.33,921.50 L151.33,921.50 C151.03,925.67 150.02,939.25 149.53,946.50 C149.05,953.75 148.73,959.42 148.43,965.00 C148.13,970.58 148.13,975.22 147.73,980.00 C147.33,984.78 146.72,989.15 146.03,993.70 C145.35,998.25 144.50,1002.75 143.63,1007.30 C142.77,1011.85 141.87,1016.43 140.83,1021.00 C139.80,1025.57 138.28,1031.28 137.43,1034.70 C136.58,1038.12 136.10,1039.23 135.73,1041.50 C135.37,1043.77 135.17,1046.02 135.23,1048.30 C135.30,1050.58 135.58,1052.92 136.13,1055.20 C136.68,1057.48 137.75,1059.73 138.53,1062.00 C139.32,1064.27 140.10,1066.52 140.83,1068.80 C141.57,1071.08 142.42,1073.83 142.93,1075.70 C143.45,1077.57 143.32,1076.55 143.93,1080.00 C144.55,1083.45 145.73,1090.88 146.63,1096.40 C147.53,1101.92 148.55,1107.83 149.33,1113.10 C150.12,1118.37 151.00,1125.52 151.33,1128.00 L151.33,1128.00 Z" fill="#b3cde1" stroke="#5c5c5c" stroke-width="1.1" stroke-linejoin="round"/>
<path d="M151.33,1001.90 L151.63,1001.90 C152.18,1002.80 154.05,1005.25 154.93,1007.30 C155.82,1009.35 156.72,1011.92 156.93,1014.20 C157.15,1016.48 155.78,1018.73 156.23,1021.00 C156.68,1023.27 158.03,1025.52 159.63,1027.80 C161.23,1030.08 163.67,1032.98 165.83,1034.70 C168.00,1036.42 169.45,1036.97 172.63,1038.10 C175.82,1039.23 180.60,1040.37 184.93,1041.50 C189.27,1042.63 193.97,1043.77 198.63,1044.90 C203.30,1046.03 210.20,1047.55 212.93,1048.30 C215.67,1049.05 216.28,1048.82 215.03,1049.40 C213.78,1049.98 209.88,1050.83 205.43,1051.80 C200.98,1052.77 192.88,1054.07 188.33,1055.20 C183.78,1056.33 181.55,1057.47 178.13,1058.60 C174.72,1059.73 171.13,1060.87 167.83,1062.00 C164.53,1063.13 160.95,1064.27 158.33,1065.40 C155.72,1066.53 153.17,1068.23 152.13,1068.80 L151.33,1068.80 Z" fill="#4682b3" stroke="#5c5c5c" stroke-width="1.1" stroke-linejoin="round"/>
<line x1="151.33" y1="1017.20" x2="141.61" y2="1017.20" stroke="#5c5c5c" stroke-width="1" stroke-dasharray="1.6 0.5" opacity="0.8"/><line x1="151.33" y1="1043.90" x2="135.56" y2="1043.90" stroke="#5c5c5c" stroke-width="1.1" stroke-dasharray="3 2.2"/><line x1="151.33" y1="1061.30" x2="138.29" y2="1061.30" stroke="#5c5c5c" stroke-width="1" stroke-dasharray="1.6 0.5" opacity="0.8"/>
<line x1="151.33" y1="1045.30" x2="200.32" y2="1045.30" stroke="#5c5c5c" stroke-width="1" stroke-dasharray="1.6 0.5" opacity="0.8"/><line x1="151.33" y1="1049.00" x2="214.27" y2="1049.00" stroke="#5c5c5c" stroke-width="1.1" stroke-dasharray="3 2.2"/>
<path d="M310.40,769.90 L310.40,769.90 C310.27,774.92 309.77,786.65 309.60,800.00 C309.43,813.35 309.47,831.58 309.40,850.00 C309.33,868.42 309.50,896.83 309.20,910.50 C308.90,924.17 307.97,927.08 307.60,932.00 C307.23,936.92 307.17,935.27 307.00,940.00 C306.83,944.73 306.83,955.30 306.60,960.40 C306.37,965.50 306.12,967.20 305.60,970.60 C305.08,974.00 304.27,977.38 303.50,980.80 C302.73,984.22 301.85,987.68 301.00,991.10 C300.15,994.52 299.85,997.90 298.40,1001.30 C296.95,1004.70 295.18,1008.10 292.30,1011.50 C289.42,1014.90 284.85,1018.30 281.10,1021.70 C277.35,1025.10 274.23,1028.50 269.80,1031.90 C265.37,1035.30 258.42,1038.70 254.50,1042.10 C250.58,1045.50 247.58,1049.75 246.30,1052.30 C245.02,1054.85 246.12,1055.70 246.80,1057.40 C247.48,1059.10 247.58,1059.95 250.40,1062.50 C253.22,1065.05 258.93,1069.30 263.70,1072.70 C268.47,1076.10 274.07,1079.48 279.00,1082.90 C283.93,1086.32 289.22,1089.78 293.30,1093.20 C297.38,1096.62 300.95,1100.00 303.50,1103.40 C306.05,1106.80 307.48,1110.37 308.60,1113.60 C309.72,1116.83 309.93,1121.27 310.20,1122.80 L310.40,1122.80 Z" fill="#b3cde1" stroke="#5c5c5c" stroke-width="1.1" stroke-linejoin="round"/>
<path d="M310.40,848.20 L310.40,848.20 C310.75,851.42 311.80,860.70 312.50,867.50 C313.20,874.30 314.15,883.62 314.60,889.00 C315.05,894.38 315.20,896.22 315.20,899.80 C315.20,903.38 314.78,906.92 314.60,910.50 C314.42,914.08 314.15,917.72 314.10,921.30 C314.05,924.88 314.12,928.42 314.30,932.00 C314.48,935.58 314.78,938.07 315.20,942.80 C315.62,947.53 316.02,955.77 316.80,960.40 C317.58,965.03 318.62,967.20 319.90,970.60 C321.18,974.00 322.80,977.38 324.50,980.80 C326.20,984.22 328.15,987.68 330.10,991.10 C332.05,994.52 334.17,997.90 336.20,1001.30 C338.23,1004.70 340.43,1008.10 342.30,1011.50 C344.17,1014.90 346.03,1018.30 347.40,1021.70 C348.77,1025.10 349.95,1029.35 350.50,1031.90 C351.05,1034.45 350.87,1035.30 350.70,1037.00 C350.53,1038.70 350.55,1039.55 349.50,1042.10 C348.45,1044.65 346.45,1048.90 344.40,1052.30 C342.35,1055.70 339.58,1059.10 337.20,1062.50 C334.82,1065.90 332.48,1069.30 330.10,1072.70 C327.72,1076.10 324.95,1079.48 322.90,1082.90 C320.85,1086.32 319.33,1089.78 317.80,1093.20 C316.27,1096.62 314.72,1100.00 313.70,1103.40 C312.68,1106.80 312.25,1110.88 311.70,1113.60 C311.15,1116.32 310.62,1118.68 310.40,1119.70 L310.40,1119.70 Z" fill="#4682b3" stroke="#5c5c5c" stroke-width="1.1" stroke-linejoin="round"/>
<line x1="310.40" y1="1033.40" x2="267.55" y2="1033.40" stroke="#5c5c5c" stroke-width="1" stroke-dasharray="1.6 0.5" opacity="0.8"/><line x1="310.40" y1="1049.80" x2="248.31" y2="1049.80" stroke="#5c5c5c" stroke-width="1.1" stroke-dasharray="3 2.2"/><line x1="310.40" y1="1061.80" x2="249.91" y2="1061.80" stroke="#5c5c5c" stroke-width="1" stroke-dasharray="1.6 0.5" opacity="0.8"/>
<line x1="310.40" y1="1005.30" x2="338.59" y2="1005.30" stroke="#5c5c5c" stroke-width="1" stroke-dasharray="1.6 0.5" opacity="0.8"/><line x1="310.40" y1="1031.70" x2="350.44" y2="1031.70" stroke="#5c5c5c" stroke-width="1.1" stroke-dasharray="3 2.2"/><line x1="310.40" y1="1044.10" x2="348.50" y2="1044.10" stroke="#5c5c5c" stroke-width="1" stroke-dasharray="1.6 0.5" opacity="0.8"/>
<path d="M469.47,784.90 L469.47,784.90 C469.33,789.27 468.98,802.27 468.67,811.10 C468.35,819.93 467.98,828.95 467.57,837.90 C467.15,846.85 466.52,857.78 466.17,864.80 C465.82,871.82 465.78,874.87 465.47,880.00 C465.15,885.13 465.03,890.40 464.27,895.60 C463.50,900.80 462.08,906.02 460.87,911.20 C459.65,916.38 458.27,921.52 456.97,926.70 C455.67,931.88 454.23,937.10 453.07,942.30 C451.90,947.50 451.13,952.70 449.97,957.90 C448.80,963.10 447.63,968.30 446.07,973.50 C444.50,978.70 443.17,983.92 440.57,989.10 C437.97,994.28 434.23,999.42 430.47,1004.60 C426.70,1009.78 421.73,1015.00 417.97,1020.20 C414.20,1025.40 409.95,1031.38 407.87,1035.80 C405.78,1040.22 405.73,1044.10 405.47,1046.70 C405.20,1049.30 404.43,1048.03 406.27,1051.40 C408.10,1054.77 411.40,1061.72 416.47,1066.90 C421.53,1072.08 430.18,1077.30 436.67,1082.50 C443.15,1087.70 450.57,1092.90 455.37,1098.10 C460.17,1103.30 463.25,1108.50 465.47,1113.70 C467.68,1118.90 468.00,1125.42 468.67,1129.30 C469.33,1133.18 469.33,1135.72 469.47,1137.00 L469.47,1137.00 Z" fill="#b3cde1" stroke="#5c5c5c" stroke-width="1.1" stroke-linejoin="round"/>
<path d="M469.47,665.00 L469.47,665.00 C469.72,667.50 470.50,674.00 470.97,680.00 C471.43,686.00 471.90,692.58 472.27,701.00 C472.63,709.42 472.88,721.10 473.17,730.50 C473.45,739.90 473.90,748.45 473.97,757.40 C474.03,766.35 473.85,775.25 473.57,784.20 C473.28,793.15 472.72,802.15 472.27,811.10 C471.82,820.05 471.03,828.95 470.87,837.90 C470.70,846.85 471.17,857.78 471.27,864.80 C471.37,871.82 471.30,874.87 471.47,880.00 C471.63,885.13 471.70,890.40 472.27,895.60 C472.83,900.80 473.65,906.02 474.87,911.20 C476.08,916.38 477.88,921.52 479.57,926.70 C481.25,931.88 483.02,937.10 484.97,942.30 C486.92,947.50 489.05,952.70 491.27,957.90 C493.48,963.10 495.93,968.30 498.27,973.50 C500.60,978.70 503.20,983.92 505.27,989.10 C507.33,994.28 509.25,999.42 510.67,1004.60 C512.08,1009.78 513.25,1016.30 513.77,1020.20 C514.28,1024.10 514.03,1025.40 513.77,1028.00 C513.50,1030.60 513.47,1031.90 512.17,1035.80 C510.87,1039.70 508.28,1046.22 505.97,1051.40 C503.65,1056.58 500.98,1061.72 498.27,1066.90 C495.55,1072.08 492.40,1077.30 489.67,1082.50 C486.93,1087.70 484.07,1092.90 481.87,1098.10 C479.67,1103.30 478.02,1108.50 476.47,1113.70 C474.92,1118.90 473.48,1124.12 472.57,1129.30 C471.65,1134.48 471.48,1139.10 470.97,1144.80 C470.45,1150.50 469.72,1160.38 469.47,1163.50 L469.47,1163.50 Z" fill="#4682b3" stroke="#5c5c5c" stroke-width="1.1" stroke-linejoin="round"/>
<line x1="469.47" y1="991.70" x2="438.87" y2="991.70" stroke="#5c5c5c" stroke-width="1" stroke-dasharray="1.6 0.5" opacity="0.8"/><line x1="469.47" y1="1032.40" x2="410.07" y2="1032.40" stroke="#5c5c5c" stroke-width="1.1" stroke-dasharray="3 2.2"/><line x1="469.47" y1="1053.20" x2="407.45" y2="1053.20" stroke="#5c5c5c" stroke-width="1" stroke-dasharray="1.6 0.5" opacity="0.8"/>
<line x1="469.47" y1="1007.40" x2="511.22" y2="1007.40" stroke="#5c5c5c" stroke-width="1" stroke-dasharray="1.6 0.5" opacity="0.8"/><line x1="469.47" y1="1017.10" x2="513.15" y2="1017.10" stroke="#5c5c5c" stroke-width="1.1" stroke-dasharray="3 2.2"/><line x1="469.47" y1="1030.00" x2="513.36" y2="1030.00" stroke="#5c5c5c" stroke-width="1" stroke-dasharray="1.6 0.5" opacity="0.8"/>
<rect x="71.80" y="640.20" width="477.20" height="552.00" fill="none" stroke="#858585" stroke-width="1.45"/>
<line x1="68.80" y1="1157.71" x2="71.80" y2="1157.71" stroke="#555" stroke-width="1.2"/>
<text x="66.30" y="1162.61" text-anchor="end" class="nm">−20</text>
<line x1="68.80" y1="1095.40" x2="71.80" y2="1095.40" stroke="#555" stroke-width="1.2"/>
<text x="66.30" y="1100.30" text-anchor="end" class="nm">0</text>
<line x1="68.80" y1="1033.09" x2="71.80" y2="1033.09" stroke="#555" stroke-width="1.2"/>
<text x="66.30" y="1037.99" text-anchor="end" class="nm">20</text>
<line x1="68.80" y1="970.78" x2="71.80" y2="970.78" stroke="#555" stroke-width="1.2"/>
<text x="66.30" y="975.68" text-anchor="end" class="nm">40</text>
<line x1="68.80" y1="908.47" x2="71.80" y2="908.47" stroke="#555" stroke-width="1.2"/>
<text x="66.30" y="913.37" text-anchor="end" class="nm">60</text>
<line x1="68.80" y1="846.16" x2="71.80" y2="846.16" stroke="#555" stroke-width="1.2"/>
<text x="66.30" y="851.06" text-anchor="end" class="nm">80</text>
<line x1="68.80" y1="783.85" x2="71.80" y2="783.85" stroke="#555" stroke-width="1.2"/>
<text x="66.30" y="788.75" text-anchor="end" class="nm">100</text>
<line x1="68.80" y1="721.54" x2="71.80" y2="721.54" stroke="#555" stroke-width="1.2"/>
<text x="66.30" y="726.44" text-anchor="end" class="nm">120</text>
<line x1="68.80" y1="659.23" x2="71.80" y2="659.23" stroke="#555" stroke-width="1.2"/>
<text x="66.30" y="664.13" text-anchor="end" class="nm">140</text>
<line x1="151.33" y1="1192.20" x2="151.33" y2="1195.20" stroke="#555" stroke-width="1.2"/>
<text x="151.33" y="1208.10" text-anchor="middle" class="tk">Diabetes Mellitus</text>
<line x1="310.40" y1="1192.20" x2="310.40" y2="1195.20" stroke="#555" stroke-width="1.2"/>
<text x="310.40" y="1208.10" text-anchor="middle" class="tk">Cancer</text>
<line x1="469.47" y1="1192.20" x2="469.47" y2="1195.20" stroke="#555" stroke-width="1.2"/>
<text x="469.47" y="1208.10" text-anchor="middle" class="tk">Hepatic Insufficiency</text>
<text x="310.40" y="1223.20" text-anchor="middle" class="xl">stra_lbl</text>
<text transform="translate(41.00,916.50) rotate(-90)" text-anchor="middle" class="yl">BU GRE</text>
<rect x="451.40" y="646.60" width="90.60" height="53.90" rx="3" ry="3" fill="#fff" fill-opacity="0.8" stroke="#d6d6d6" stroke-width="1.1"/>
<text x="496.70" y="661.80" text-anchor="middle" class="lg">Group</text>
<rect x="456.60" y="668.90" width="26" height="9.2" fill="#b3cde1" stroke="#8fa9bd" stroke-width="0.8"/>
<rect x="456.60" y="686.40" width="26" height="9.2" fill="#4682b3" stroke="#3f73a0" stroke-width="0.8"/>
<text x="493.20" y="678.80" class="lg">Control</text>
<text x="493.20" y="696.10" class="lg">AKI</text>
<text x="0.00" y="681.60" class="pl">D</text>
<path d="M742.75,992.50 L742.75,992.50 C742.20,994.03 740.68,998.47 739.45,1001.70 C738.22,1004.93 736.37,1009.35 735.35,1011.90 C734.33,1014.45 734.37,1015.30 733.35,1017.00 C732.33,1018.70 730.78,1020.40 729.25,1022.10 C727.72,1023.80 725.85,1025.50 724.15,1027.20 C722.45,1028.90 720.93,1030.60 719.05,1032.30 C717.17,1034.00 715.07,1035.70 712.85,1037.40 C710.63,1039.10 708.63,1040.80 705.75,1042.50 C702.87,1044.20 699.12,1045.90 695.55,1047.60 C691.98,1049.30 687.08,1050.98 684.35,1052.70 C681.62,1054.42 678.98,1056.18 679.15,1057.90 C679.32,1059.62 682.62,1061.30 685.35,1063.00 C688.08,1064.70 691.98,1066.40 695.55,1068.10 C699.12,1069.80 702.83,1071.50 706.75,1073.20 C710.67,1074.90 714.97,1076.60 719.05,1078.30 C723.13,1080.00 727.85,1081.70 731.25,1083.40 C734.65,1085.10 737.53,1086.12 739.45,1088.50 C741.37,1090.88 742.20,1096.17 742.75,1097.70 L742.75,1097.70 Z" fill="#b3cde1" stroke="#5c5c5c" stroke-width="1.1" stroke-linejoin="round"/>
<path d="M742.75,935.80 L743.05,935.80 C743.47,937.42 744.28,942.18 745.55,945.50 C746.82,948.82 748.43,952.28 750.65,955.70 C752.87,959.12 755.45,962.58 758.85,966.00 C762.25,969.42 767.48,972.80 771.05,976.20 C774.62,979.60 778.37,983.85 780.25,986.40 C782.13,988.95 782.27,989.80 782.35,991.50 C782.43,993.20 782.45,994.05 780.75,996.60 C779.05,999.15 775.30,1003.40 772.15,1006.80 C769.00,1010.20 764.20,1013.60 761.85,1017.00 C759.50,1020.40 758.55,1023.80 758.05,1027.20 C757.55,1030.60 758.72,1034.00 758.85,1037.40 C758.98,1040.80 759.45,1044.18 758.85,1047.60 C758.25,1051.02 756.62,1054.48 755.25,1057.90 C753.88,1061.32 752.08,1064.70 750.65,1068.10 C749.22,1071.50 747.83,1074.90 746.65,1078.30 C745.47,1081.70 744.20,1085.95 743.55,1088.50 C742.90,1091.05 742.88,1092.75 742.75,1093.60 L742.75,1093.60 Z" fill="#4682b3" stroke="#5c5c5c" stroke-width="1.1" stroke-linejoin="round"/>
<line x1="742.75" y1="1045.10" x2="700.55" y2="1045.10" stroke="#5c5c5c" stroke-width="1" stroke-dasharray="1.6 0.5" opacity="0.8"/><line x1="742.75" y1="1055.80" x2="681.25" y2="1055.80" stroke="#5c5c5c" stroke-width="1.1" stroke-dasharray="3 2.2"/><line x1="742.75" y1="1065.50" x2="690.35" y2="1065.50" stroke="#5c5c5c" stroke-width="1" stroke-dasharray="1.6 0.5" opacity="0.8"/>
<line x1="742.75" y1="986.90" x2="780.46" y2="986.90" stroke="#5c5c5c" stroke-width="1" stroke-dasharray="1.6 0.5" opacity="0.8"/><line x1="742.75" y1="995.10" x2="781.22" y2="995.10" stroke="#5c5c5c" stroke-width="1.1" stroke-dasharray="3 2.2"/><line x1="742.75" y1="1033.30" x2="758.53" y2="1033.30" stroke="#5c5c5c" stroke-width="1" stroke-dasharray="1.6 0.5" opacity="0.8"/>
<path d="M901.65,949.80 L901.65,949.80 C901.50,951.50 900.97,955.25 900.75,960.00 C900.53,964.75 900.57,972.22 900.35,978.30 C900.13,984.38 899.77,990.42 899.45,996.50 C899.13,1002.58 898.77,1009.47 898.45,1014.80 C898.13,1020.13 897.85,1025.45 897.55,1028.50 C897.25,1031.55 897.25,1031.58 896.65,1033.10 C896.05,1034.62 895.47,1036.08 893.95,1037.60 C892.43,1039.12 890.13,1040.67 887.55,1042.20 C884.97,1043.73 881.65,1045.28 878.45,1046.80 C875.25,1048.32 872.17,1049.78 868.35,1051.30 C864.53,1052.82 859.65,1054.37 855.55,1055.90 C851.45,1057.43 846.63,1058.98 843.75,1060.50 C840.87,1062.02 838.25,1063.48 838.25,1065.00 C838.25,1066.52 841.17,1068.07 843.75,1069.60 C846.33,1071.13 849.95,1072.68 853.75,1074.20 C857.55,1075.72 862.28,1077.18 866.55,1078.70 C870.82,1080.22 875.55,1081.77 879.35,1083.30 C883.15,1084.83 886.47,1086.38 889.35,1087.90 C892.23,1089.42 894.82,1090.88 896.65,1092.40 C898.48,1093.92 899.52,1095.78 900.35,1097.00 C901.18,1098.22 901.43,1099.25 901.65,1099.70 L901.65,1099.70 Z" fill="#b3cde1" stroke="#5c5c5c" stroke-width="1.1" stroke-linejoin="round"/>
<path d="M901.65,841.50 L901.65,841.50 C901.78,847.90 902.12,869.07 902.45,879.90 C902.78,890.73 903.45,897.32 903.65,906.50 C903.85,915.68 903.52,926.08 903.65,935.00 C903.78,943.92 904.02,952.78 904.45,960.00 C904.88,967.22 905.27,972.22 906.25,978.30 C907.23,984.38 908.83,990.42 910.35,996.50 C911.87,1002.58 913.67,1008.70 915.35,1014.80 C917.03,1020.90 919.23,1027.77 920.45,1033.10 C921.67,1038.43 922.28,1043.77 922.65,1046.80 C923.02,1049.83 922.95,1049.02 922.65,1051.30 C922.35,1053.58 921.68,1057.45 920.85,1060.50 C920.02,1063.55 918.78,1066.57 917.65,1069.60 C916.52,1072.63 915.27,1075.65 914.05,1078.70 C912.83,1081.75 911.42,1084.85 910.35,1087.90 C909.28,1090.95 908.48,1093.97 907.65,1097.00 C906.82,1100.03 906.00,1103.05 905.35,1106.10 C904.70,1109.15 904.37,1112.40 903.75,1115.30 C903.13,1118.20 902.00,1122.13 901.65,1123.50 L901.65,1123.50 Z" fill="#4682b3" stroke="#5c5c5c" stroke-width="1.1" stroke-linejoin="round"/>
<line x1="901.65" y1="1054.50" x2="859.45" y2="1054.50" stroke="#5c5c5c" stroke-width="1" stroke-dasharray="1.6 0.5" opacity="0.8"/><line x1="901.65" y1="1064.80" x2="838.49" y2="1064.80" stroke="#5c5c5c" stroke-width="1.1" stroke-dasharray="3 2.2"/><line x1="901.65" y1="1070.00" x2="844.62" y2="1070.00" stroke="#5c5c5c" stroke-width="1" stroke-dasharray="1.6 0.5" opacity="0.8"/>
<line x1="901.65" y1="1018.40" x2="916.35" y2="1018.40" stroke="#5c5c5c" stroke-width="1" stroke-dasharray="1.6 0.5" opacity="0.8"/><line x1="901.65" y1="1045.70" x2="922.47" y2="1045.70" stroke="#5c5c5c" stroke-width="1.1" stroke-dasharray="3 2.2"/><line x1="901.65" y1="1060.60" x2="920.81" y2="1060.60" stroke="#5c5c5c" stroke-width="1" stroke-dasharray="1.6 0.5" opacity="0.8"/>
<path d="M1060.55,929.80 L1060.55,929.80 C1060.38,930.67 1060.02,932.43 1059.55,935.00 C1059.08,937.57 1058.38,941.00 1057.75,945.20 C1057.12,949.40 1056.20,955.18 1055.75,960.20 C1055.30,965.22 1055.47,970.28 1055.05,975.30 C1054.63,980.32 1054.43,985.28 1053.25,990.30 C1052.07,995.32 1050.33,1000.38 1047.95,1005.40 C1045.57,1010.42 1042.58,1015.38 1038.95,1020.40 C1035.32,1025.42 1030.05,1031.73 1026.15,1035.50 C1022.25,1039.27 1019.32,1040.50 1015.55,1043.00 C1011.78,1045.50 1006.55,1047.98 1003.55,1050.50 C1000.55,1053.02 998.18,1055.58 997.55,1058.10 C996.92,1060.62 997.50,1063.10 999.75,1065.60 C1002.00,1068.10 1006.65,1070.60 1011.05,1073.10 C1015.45,1075.60 1021.13,1078.08 1026.15,1080.60 C1031.17,1083.12 1036.63,1085.68 1041.15,1088.20 C1045.67,1090.72 1050.18,1093.20 1053.25,1095.70 C1056.32,1098.20 1058.50,1101.95 1059.55,1103.20 L1060.55,1103.20 Z" fill="#b3cde1" stroke="#5c5c5c" stroke-width="1.1" stroke-linejoin="round"/>
<path d="M1060.55,665.00 L1060.55,665.00 C1060.87,673.05 1062.03,691.37 1062.45,713.30 C1062.87,735.23 1063.17,768.83 1063.05,796.60 C1062.93,824.37 1061.93,862.67 1061.75,879.90 C1061.57,897.13 1061.37,891.63 1061.95,900.00 C1062.53,908.37 1064.32,922.57 1065.25,930.10 C1066.18,937.63 1066.80,940.18 1067.55,945.20 C1068.30,950.22 1068.88,955.18 1069.75,960.20 C1070.62,965.22 1071.75,970.28 1072.75,975.30 C1073.75,980.32 1074.73,985.28 1075.75,990.30 C1076.77,995.32 1078.02,1000.38 1078.85,1005.40 C1079.68,1010.42 1080.25,1015.38 1080.75,1020.40 C1081.25,1025.42 1081.80,1030.48 1081.85,1035.50 C1081.90,1040.52 1081.55,1045.48 1081.05,1050.50 C1080.55,1055.52 1079.85,1060.58 1078.85,1065.60 C1077.85,1070.62 1076.32,1075.58 1075.05,1080.60 C1073.78,1085.62 1072.50,1090.67 1071.25,1095.70 C1070.00,1100.73 1068.55,1105.78 1067.55,1110.80 C1066.55,1115.82 1065.93,1120.78 1065.25,1125.80 C1064.57,1130.82 1063.95,1135.88 1063.45,1140.90 C1062.95,1145.92 1062.73,1151.02 1062.25,1155.90 C1061.77,1160.78 1060.83,1167.82 1060.55,1170.20 L1060.55,1170.20 Z" fill="#4682b3" stroke="#5c5c5c" stroke-width="1.1" stroke-linejoin="round"/>
<line x1="1060.55" y1="1034.40" x2="1027.08" y2="1034.40" stroke="#5c5c5c" stroke-width="1" stroke-dasharray="1.6 0.5" opacity="0.8"/><line x1="1060.55" y1="1056.30" x2="998.97" y2="1056.30" stroke="#5c5c5c" stroke-width="1.1" stroke-dasharray="3 2.2"/><line x1="1060.55" y1="1066.80" x2="1001.56" y2="1066.80" stroke="#5c5c5c" stroke-width="1" stroke-dasharray="1.6 0.5" opacity="0.8"/>
<line x1="1060.55" y1="1009.40" x2="1079.36" y2="1009.40" stroke="#5c5c5c" stroke-width="1" stroke-dasharray="1.6 0.5" opacity="0.8"/><line x1="1060.55" y1="1037.40" x2="1081.75" y2="1037.40" stroke="#5c5c5c" stroke-width="1.1" stroke-dasharray="3 2.2"/><line x1="1060.55" y1="1055.80" x2="1080.28" y2="1055.80" stroke="#5c5c5c" stroke-width="1" stroke-dasharray="1.6 0.5" opacity="0.8"/>
<rect x="663.30" y="640.20" width="476.70" height="552.00" fill="none" stroke="#858585" stroke-width="1.45"/>
<line x1="660.30" y1="1087.40" x2="663.30" y2="1087.40" stroke="#555" stroke-width="1.2"/>
<text x="657.80" y="1092.30" text-anchor="end" class="nm">0</text>
<line x1="660.30" y1="978.71" x2="663.30" y2="978.71" stroke="#555" stroke-width="1.2"/>
<text x="657.80" y="983.61" text-anchor="end" class="nm">20</text>
<line x1="660.30" y1="870.02" x2="663.30" y2="870.02" stroke="#555" stroke-width="1.2"/>
<text x="657.80" y="874.92" text-anchor="end" class="nm">40</text>
<line x1="660.30" y1="761.33" x2="663.30" y2="761.33" stroke="#555" stroke-width="1.2"/>
<text x="657.80" y="766.23" text-anchor="end" class="nm">60</text>
<line x1="660.30" y1="652.64" x2="663.30" y2="652.64" stroke="#555" stroke-width="1.2"/>
<text x="657.80" y="657.54" text-anchor="end" class="nm">80</text>
<line x1="742.75" y1="1192.20" x2="742.75" y2="1195.20" stroke="#555" stroke-width="1.2"/>
<text x="742.75" y="1208.10" text-anchor="middle" class="tk">Diabetes Mellitus</text>
<line x1="901.65" y1="1192.20" x2="901.65" y2="1195.20" stroke="#555" stroke-width="1.2"/>
<text x="901.65" y="1208.10" text-anchor="middle" class="tk">Cancer</text>
<line x1="1060.55" y1="1192.20" x2="1060.55" y2="1195.20" stroke="#555" stroke-width="1.2"/>
<text x="1060.55" y="1208.10" text-anchor="middle" class="tk">Hepatic Insufficiency</text>
<text x="901.65" y="1223.20" text-anchor="middle" class="xl">stra_lbl</text>
<text transform="translate(639.50,920.30) rotate(-90)" text-anchor="middle" class="yl">BU</text>
<rect x="1043.00" y="646.60" width="90.70" height="53.90" rx="3" ry="3" fill="#fff" fill-opacity="0.8" stroke="#d6d6d6" stroke-width="1.1"/>
<text x="1088.35" y="661.80" text-anchor="middle" class="lg">Group</text>
<rect x="1048.20" y="668.90" width="26" height="9.2" fill="#b3cde1" stroke="#8fa9bd" stroke-width="0.8"/>
<rect x="1048.20" y="686.40" width="26" height="9.2" fill="#4682b3" stroke="#3f73a0" stroke-width="0.8"/>
<text x="1084.80" y="678.80" class="lg">Control</text>
<text x="1084.80" y="696.10" class="lg">AKI</text>
<text x="590.20" y="681.60" class="pl">E</text>
<path d="M1346.43,713.30 L1346.43,713.30 C1346.23,721.63 1345.43,746.65 1345.23,763.30 C1345.03,779.95 1345.13,800.42 1345.23,813.20 C1345.33,825.98 1345.80,832.93 1345.83,840.00 C1345.87,847.07 1345.90,850.40 1345.43,855.60 C1344.97,860.80 1344.22,866.00 1343.03,871.20 C1341.85,876.40 1340.15,881.60 1338.33,886.80 C1336.52,892.00 1333.95,897.20 1332.13,902.40 C1330.32,907.60 1328.98,912.82 1327.43,918.00 C1325.88,923.18 1324.18,928.32 1322.83,933.50 C1321.48,938.68 1320.25,943.90 1319.33,949.10 C1318.42,954.30 1317.53,959.50 1317.33,964.70 C1317.13,969.90 1317.48,975.10 1318.13,980.30 C1318.78,985.50 1320.33,990.70 1321.23,995.90 C1322.13,1001.10 1323.02,1006.30 1323.53,1011.50 C1324.05,1016.70 1323.80,1021.90 1324.33,1027.10 C1324.87,1032.30 1325.68,1037.50 1326.73,1042.70 C1327.78,1047.90 1328.95,1053.10 1330.63,1058.30 C1332.32,1063.50 1334.90,1068.70 1336.83,1073.90 C1338.77,1079.10 1340.88,1084.32 1342.23,1089.50 C1343.58,1094.68 1344.33,1099.82 1344.93,1105.00 C1345.53,1110.18 1345.58,1116.95 1345.83,1120.60 C1346.08,1124.25 1346.33,1125.85 1346.43,1126.90 L1346.43,1126.90 Z" fill="#b3cde1" stroke="#5c5c5c" stroke-width="1.1" stroke-linejoin="round"/>
<path d="M1346.43,868.80 L1346.93,868.80 C1347.58,871.80 1350.05,881.20 1350.83,886.80 C1351.62,892.40 1351.77,897.20 1351.63,902.40 C1351.50,907.60 1350.30,912.82 1350.03,918.00 C1349.77,923.18 1349.63,928.32 1350.03,933.50 C1350.43,938.68 1351.27,943.90 1352.43,949.10 C1353.60,954.30 1354.97,959.50 1357.03,964.70 C1359.10,969.90 1360.67,975.10 1364.83,980.30 C1369.00,985.50 1377.08,992.00 1382.03,995.90 C1386.98,999.80 1390.63,1001.10 1394.53,1003.70 C1398.43,1006.30 1402.70,1008.90 1405.43,1011.50 C1408.17,1014.10 1410.93,1016.70 1410.93,1019.30 C1410.93,1021.90 1408.17,1024.50 1405.43,1027.10 C1402.70,1029.70 1398.68,1032.30 1394.53,1034.90 C1390.38,1037.50 1386.25,1038.80 1380.53,1042.70 C1374.82,1046.60 1365.18,1053.10 1360.23,1058.30 C1355.28,1063.50 1352.87,1068.70 1350.83,1073.90 C1348.80,1079.10 1348.60,1085.35 1348.03,1089.50 C1347.47,1093.65 1347.53,1097.25 1347.43,1098.80 L1346.43,1098.80 Z" fill="#4682b3" stroke="#5c5c5c" stroke-width="1.1" stroke-linejoin="round"/>
<line x1="1346.43" y1="950.70" x2="1319.13" y2="950.70" stroke="#5c5c5c" stroke-width="1" stroke-dasharray="1.6 0.5" opacity="0.8"/><line x1="1346.43" y1="973.60" x2="1317.79" y2="973.60" stroke="#5c5c5c" stroke-width="1.1" stroke-dasharray="3 2.2"/><line x1="1346.43" y1="1022.10" x2="1324.08" y2="1022.10" stroke="#5c5c5c" stroke-width="1" stroke-dasharray="1.6 0.5" opacity="0.8"/>
<line x1="1346.43" y1="1013.40" x2="1406.77" y2="1013.40" stroke="#5c5c5c" stroke-width="1" stroke-dasharray="1.6 0.5" opacity="0.8"/><line x1="1346.43" y1="1017.70" x2="1409.81" y2="1017.70" stroke="#5c5c5c" stroke-width="1.1" stroke-dasharray="3 2.2"/><line x1="1346.43" y1="1024.40" x2="1407.34" y2="1024.40" stroke="#5c5c5c" stroke-width="1" stroke-dasharray="1.6 0.5" opacity="0.8"/>
<path d="M1508.30,773.20 L1508.30,773.20 C1508.17,779.87 1507.92,800.98 1507.50,813.20 C1507.08,825.42 1506.33,837.03 1505.80,846.50 C1505.27,855.97 1504.90,863.75 1504.30,870.00 C1503.70,876.25 1503.02,879.35 1502.20,884.00 C1501.38,888.65 1500.33,893.25 1499.40,897.90 C1498.47,902.55 1497.53,907.23 1496.60,911.90 C1495.67,916.57 1494.57,921.23 1493.80,925.90 C1493.03,930.57 1492.47,935.25 1492.00,939.90 C1491.53,944.55 1491.23,949.15 1491.00,953.80 C1490.77,958.45 1490.67,963.13 1490.60,967.80 C1490.53,972.47 1490.77,977.15 1490.60,981.80 C1490.43,986.45 1490.35,991.05 1489.60,995.70 C1488.85,1000.35 1488.07,1005.03 1486.10,1009.70 C1484.13,1014.37 1480.83,1019.03 1477.80,1023.70 C1474.77,1028.37 1470.58,1033.05 1467.90,1037.70 C1465.22,1042.35 1462.62,1048.12 1461.70,1051.60 C1460.78,1055.08 1461.70,1056.27 1462.40,1058.60 C1463.10,1060.93 1462.88,1062.10 1465.90,1065.60 C1468.92,1069.10 1475.73,1074.93 1480.50,1079.60 C1485.27,1084.27 1490.77,1088.95 1494.50,1093.60 C1498.23,1098.25 1500.85,1103.78 1502.90,1107.50 C1504.95,1111.22 1506.15,1114.50 1506.80,1115.90 L1508.30,1115.90 Z" fill="#b3cde1" stroke="#5c5c5c" stroke-width="1.1" stroke-linejoin="round"/>
<path d="M1508.30,887.50 L1508.70,887.50 C1509.13,889.23 1510.40,893.83 1511.30,897.90 C1512.20,901.97 1513.28,907.23 1514.10,911.90 C1514.92,916.57 1515.85,921.23 1516.20,925.90 C1516.55,930.57 1516.55,935.25 1516.20,939.90 C1515.85,944.55 1514.45,949.15 1514.10,953.80 C1513.75,958.45 1513.53,963.13 1514.10,967.80 C1514.67,972.47 1515.65,977.15 1517.50,981.80 C1519.35,986.45 1521.82,991.05 1525.20,995.70 C1528.58,1000.35 1533.37,1005.03 1537.80,1009.70 C1542.23,1014.37 1547.38,1019.03 1551.80,1023.70 C1556.22,1028.37 1560.82,1033.05 1564.30,1037.70 C1567.78,1042.35 1572.23,1046.95 1572.70,1051.60 C1573.17,1056.25 1570.82,1060.93 1567.10,1065.60 C1563.38,1070.27 1556.45,1074.93 1550.40,1079.60 C1544.35,1084.27 1536.62,1088.95 1530.80,1093.60 C1524.98,1098.25 1518.63,1104.02 1515.50,1107.50 C1512.37,1110.98 1512.58,1113.33 1512.00,1114.50 L1508.30,1114.50 Z" fill="#4682b3" stroke="#5c5c5c" stroke-width="1.1" stroke-linejoin="round"/>
<line x1="1508.30" y1="965.30" x2="1490.67" y2="965.30" stroke="#5c5c5c" stroke-width="1" stroke-dasharray="1.6 0.5" opacity="0.8"/><line x1="1508.30" y1="1034.60" x2="1470.09" y2="1034.60" stroke="#5c5c5c" stroke-width="1.1" stroke-dasharray="3 2.2"/><line x1="1508.30" y1="1063.20" x2="1464.70" y2="1063.20" stroke="#5c5c5c" stroke-width="1" stroke-dasharray="1.6 0.5" opacity="0.8"/>
<line x1="1508.30" y1="1032.10" x2="1559.30" y2="1032.10" stroke="#5c5c5c" stroke-width="1" stroke-dasharray="1.6 0.5" opacity="0.8"/><line x1="1508.30" y1="1050.20" x2="1571.85" y2="1050.20" stroke="#5c5c5c" stroke-width="1.1" stroke-dasharray="3 2.2"/><line x1="1508.30" y1="1063.50" x2="1567.94" y2="1063.50" stroke="#5c5c5c" stroke-width="1" stroke-dasharray="1.6 0.5" opacity="0.8"/>
<path d="M1670.17,810.40 L1670.17,810.40 C1669.53,814.17 1667.90,825.65 1666.37,833.00 C1664.83,840.35 1663.13,847.33 1660.97,854.50 C1658.80,861.67 1656.42,868.83 1653.37,876.00 C1650.32,883.17 1646.60,890.33 1642.67,897.50 C1638.73,904.67 1633.53,911.83 1629.77,919.00 C1626.00,926.17 1622.58,933.33 1620.07,940.50 C1617.55,947.67 1615.57,954.83 1614.67,962.00 C1613.77,969.17 1615.38,976.33 1614.67,983.50 C1613.95,990.67 1611.78,999.62 1610.37,1005.00 C1608.95,1010.38 1606.98,1012.20 1606.17,1015.80 C1605.35,1019.40 1604.22,1021.22 1605.47,1026.60 C1606.72,1031.98 1608.72,1040.93 1613.67,1048.10 C1618.62,1055.27 1628.37,1062.43 1635.17,1069.60 C1641.97,1076.77 1650.00,1085.73 1654.47,1091.10 C1658.93,1096.47 1659.63,1097.87 1661.97,1101.80 C1664.30,1105.73 1667.38,1112.55 1668.47,1114.70 L1670.17,1114.70 Z" fill="#b3cde1" stroke="#5c5c5c" stroke-width="1.1" stroke-linejoin="round"/>
<path d="M1670.17,665.00 L1670.17,665.00 C1670.42,667.50 1671.20,673.85 1671.67,680.00 C1672.13,686.15 1672.53,694.23 1672.97,701.90 C1673.40,709.57 1673.68,717.68 1674.27,726.00 C1674.85,734.32 1675.90,743.20 1676.47,751.80 C1677.03,760.40 1677.32,769.57 1677.67,777.60 C1678.02,785.63 1678.32,790.77 1678.57,800.00 C1678.82,809.23 1678.52,820.33 1679.17,833.00 C1679.82,845.67 1681.38,865.25 1682.47,876.00 C1683.55,886.75 1684.60,890.33 1685.67,897.50 C1686.73,904.67 1687.62,911.83 1688.87,919.00 C1690.12,926.17 1691.55,933.33 1693.17,940.50 C1694.78,947.67 1696.23,954.83 1698.57,962.00 C1700.90,969.17 1704.30,976.33 1707.17,983.50 C1710.03,990.67 1713.62,997.82 1715.77,1005.00 C1717.92,1012.18 1719.35,1019.42 1720.07,1026.60 C1720.78,1033.78 1721.32,1040.93 1720.07,1048.10 C1718.82,1055.27 1715.62,1062.43 1712.57,1069.60 C1709.52,1076.77 1705.35,1083.93 1701.77,1091.10 C1698.18,1098.27 1694.10,1105.43 1691.07,1112.60 C1688.03,1119.77 1685.72,1126.93 1683.57,1134.10 C1681.42,1141.27 1679.62,1148.43 1678.17,1155.60 C1676.72,1162.77 1675.52,1172.27 1674.87,1177.10 C1674.22,1181.93 1674.37,1183.35 1674.27,1184.60 L1670.17,1184.60 Z" fill="#4682b3" stroke="#5c5c5c" stroke-width="1.1" stroke-linejoin="round"/>
<line x1="1670.17" y1="951.70" x2="1617.25" y2="951.70" stroke="#5c5c5c" stroke-width="1" stroke-dasharray="1.6 0.5" opacity="0.8"/><line x1="1670.17" y1="996.50" x2="1612.07" y2="996.50" stroke="#5c5c5c" stroke-width="1.1" stroke-dasharray="3 2.2"/><line x1="1670.17" y1="1034.50" x2="1608.48" y2="1034.50" stroke="#5c5c5c" stroke-width="1" stroke-dasharray="1.6 0.5" opacity="0.8"/>
<line x1="1670.17" y1="961.40" x2="1698.42" y2="961.40" stroke="#5c5c5c" stroke-width="1" stroke-dasharray="1.6 0.5" opacity="0.8"/><line x1="1670.17" y1="1042.70" x2="1720.07" y2="1042.70" stroke="#5c5c5c" stroke-width="1.1" stroke-dasharray="3 2.2"/><line x1="1670.17" y1="1052.80" x2="1718.43" y2="1052.80" stroke="#5c5c5c" stroke-width="1" stroke-dasharray="1.6 0.5" opacity="0.8"/>
<rect x="1265.50" y="640.20" width="485.60" height="562.60" fill="none" stroke="#858585" stroke-width="1.45"/>
<line x1="1262.50" y1="1168.80" x2="1265.50" y2="1168.80" stroke="#555" stroke-width="1.2"/>
<text x="1260.00" y="1173.70" text-anchor="end" class="nm">−200</text>
<line x1="1262.50" y1="1074.70" x2="1265.50" y2="1074.70" stroke="#555" stroke-width="1.2"/>
<text x="1260.00" y="1079.60" text-anchor="end" class="nm">0</text>
<line x1="1262.50" y1="980.60" x2="1265.50" y2="980.60" stroke="#555" stroke-width="1.2"/>
<text x="1260.00" y="985.50" text-anchor="end" class="nm">200</text>
<line x1="1262.50" y1="886.50" x2="1265.50" y2="886.50" stroke="#555" stroke-width="1.2"/>
<text x="1260.00" y="891.40" text-anchor="end" class="nm">400</text>
<line x1="1262.50" y1="792.40" x2="1265.50" y2="792.40" stroke="#555" stroke-width="1.2"/>
<text x="1260.00" y="797.30" text-anchor="end" class="nm">600</text>
<line x1="1262.50" y1="698.30" x2="1265.50" y2="698.30" stroke="#555" stroke-width="1.2"/>
<text x="1260.00" y="703.20" text-anchor="end" class="nm">800</text>
<line x1="1346.43" y1="1202.80" x2="1346.43" y2="1205.80" stroke="#555" stroke-width="1.2"/>
<text x="1346.43" y="1218.70" text-anchor="middle" class="tk">Diabetes Mellitus</text>
<line x1="1508.30" y1="1202.80" x2="1508.30" y2="1205.80" stroke="#555" stroke-width="1.2"/>
<text x="1508.30" y="1218.70" text-anchor="middle" class="tk">Cancer</text>
<line x1="1670.17" y1="1202.80" x2="1670.17" y2="1205.80" stroke="#555" stroke-width="1.2"/>
<text x="1670.17" y="1218.70" text-anchor="middle" class="tk">Hepatic Insufficiency</text>
<text x="1508.30" y="1233.80" text-anchor="middle" class="xl">stra_lbl</text>
<text transform="translate(1226.00,930.60) rotate(-90)" text-anchor="middle" class="yl">PLT</text>
<rect x="1651.70" y="646.70" width="92.30" height="54.90" rx="3" ry="3" fill="#fff" fill-opacity="0.8" stroke="#d6d6d6" stroke-width="1.1"/>
<text x="1697.85" y="661.90" text-anchor="middle" class="lg">Group</text>
<rect x="1656.90" y="669.00" width="26" height="9.2" fill="#b3cde1" stroke="#8fa9bd" stroke-width="0.8"/>
<rect x="1656.90" y="686.50" width="26" height="9.2" fill="#4682b3" stroke="#3f73a0" stroke-width="0.8"/>
<text x="1693.50" y="678.90" class="lg">Control</text>
<text x="1693.50" y="696.20" class="lg">AKI</text>
<text x="1213.00" y="681.60" class="pl">F</text>
<path d="M158.33,1556.90 L158.33,1556.90 C158.20,1560.47 157.67,1569.27 157.53,1578.30 C157.40,1587.33 157.55,1602.48 157.53,1611.10 C157.52,1619.72 157.82,1625.62 157.43,1630.00 C157.05,1634.38 155.80,1634.93 155.23,1637.40 C154.67,1639.87 154.35,1642.33 154.03,1644.80 C153.72,1647.27 153.75,1649.73 153.33,1652.20 C152.92,1654.67 152.22,1657.75 151.53,1659.60 C150.85,1661.45 150.23,1662.07 149.23,1663.30 C148.23,1664.53 147.13,1665.77 145.53,1667.00 C143.93,1668.23 141.85,1669.47 139.63,1670.70 C137.42,1671.93 134.45,1673.17 132.23,1674.40 C130.02,1675.63 127.93,1676.87 126.33,1678.10 C124.73,1679.33 123.57,1680.68 122.63,1681.80 C121.70,1682.92 120.48,1683.57 120.73,1684.80 C120.98,1686.03 122.70,1687.85 124.13,1689.20 C125.57,1690.55 127.37,1691.67 129.33,1692.90 C131.30,1694.13 133.72,1695.37 135.93,1696.60 C138.15,1697.83 140.53,1699.07 142.63,1700.30 C144.73,1701.53 146.57,1702.77 148.53,1704.00 C150.50,1705.23 152.95,1706.70 154.43,1707.70 C155.92,1708.70 156.93,1709.62 157.43,1710.00 L158.33,1710.00 Z" fill="#b3cde1" stroke="#5c5c5c" stroke-width="1.1" stroke-linejoin="round"/>
<path d="M158.33,1665.50 L158.83,1665.50 C159.42,1665.83 159.97,1666.63 162.33,1667.50 C164.70,1668.37 169.03,1669.55 173.03,1670.70 C177.03,1671.85 182.40,1673.17 186.33,1674.40 C190.27,1675.63 192.82,1676.87 196.63,1678.10 C200.45,1679.33 205.28,1680.57 209.23,1681.80 C213.18,1683.03 218.23,1684.63 220.33,1685.50 C222.43,1686.37 222.70,1686.38 221.83,1687.00 C220.97,1687.62 219.57,1688.22 215.13,1689.20 C210.70,1690.18 202.25,1691.67 195.23,1692.90 C188.22,1694.13 178.60,1695.62 173.03,1696.60 C167.47,1697.58 164.23,1698.18 161.83,1698.80 C159.43,1699.42 159.17,1700.05 158.63,1700.30 L158.33,1700.30 Z" fill="#4682b3" stroke="#5c5c5c" stroke-width="1.1" stroke-linejoin="round"/>
<line x1="158.33" y1="1678.00" x2="126.49" y2="1678.00" stroke="#5c5c5c" stroke-width="1" stroke-dasharray="1.6 0.5" opacity="0.8"/><line x1="158.33" y1="1684.80" x2="120.73" y2="1684.80" stroke="#5c5c5c" stroke-width="1.1" stroke-dasharray="3 2.2"/><line x1="158.33" y1="1687.00" x2="122.43" y2="1687.00" stroke="#5c5c5c" stroke-width="1" stroke-dasharray="1.6 0.5" opacity="0.8"/>
<line x1="158.33" y1="1683.70" x2="214.93" y2="1683.70" stroke="#5c5c5c" stroke-width="1" stroke-dasharray="1.6 0.5" opacity="0.8"/><line x1="158.33" y1="1684.40" x2="217.03" y2="1684.40" stroke="#5c5c5c" stroke-width="1.1" stroke-dasharray="3 2.2"/><line x1="158.33" y1="1688.50" x2="217.27" y2="1688.50" stroke="#5c5c5c" stroke-width="1" stroke-dasharray="1.6 0.5" opacity="0.8"/>
<path d="M317.00,1453.50 L317.00,1453.50 C316.90,1463.35 316.55,1491.80 316.40,1512.60 C316.25,1533.40 316.13,1561.88 316.10,1578.30 C316.07,1594.72 316.17,1604.15 316.20,1611.10 C316.23,1618.05 316.38,1617.28 316.30,1620.00 C316.22,1622.72 315.92,1624.93 315.70,1627.40 C315.48,1629.87 315.28,1632.33 315.00,1634.80 C314.72,1637.27 314.47,1639.73 314.00,1642.20 C313.53,1644.67 312.93,1647.13 312.20,1649.60 C311.47,1652.07 310.83,1654.53 309.60,1657.00 C308.37,1659.47 306.83,1661.93 304.80,1664.40 C302.77,1666.87 300.37,1669.33 297.40,1671.80 C294.43,1674.27 289.22,1677.35 287.00,1679.20 C284.78,1681.05 284.10,1681.67 284.10,1682.90 C284.10,1684.13 284.53,1684.75 287.00,1686.60 C289.47,1688.45 295.20,1691.53 298.90,1694.00 C302.60,1696.47 306.73,1699.55 309.20,1701.40 C311.67,1703.25 312.47,1703.73 313.70,1705.10 C314.93,1706.47 316.12,1708.85 316.60,1709.60 L317.00,1709.60 Z" fill="#b3cde1" stroke="#5c5c5c" stroke-width="1.1" stroke-linejoin="round"/>
<path d="M317.00,1654.10 L317.40,1654.10 C318.02,1654.58 319.87,1655.90 321.10,1657.00 C322.33,1658.10 323.63,1659.47 324.80,1660.70 C325.97,1661.93 327.43,1663.17 328.10,1664.40 C328.77,1665.63 328.48,1666.87 328.80,1668.10 C329.12,1669.33 328.08,1670.57 330.00,1671.80 C331.92,1673.03 336.13,1674.27 340.30,1675.50 C344.47,1676.73 349.45,1677.97 355.00,1679.20 C360.55,1680.43 369.32,1681.92 373.60,1682.90 C377.88,1683.88 381.32,1684.23 380.70,1685.10 C380.08,1685.97 375.40,1686.98 369.90,1688.10 C364.40,1689.22 354.48,1690.68 347.70,1691.80 C340.92,1692.92 333.77,1693.93 329.20,1694.80 C324.63,1695.67 322.27,1696.52 320.30,1697.00 C318.33,1697.48 317.88,1697.58 317.40,1697.70 L317.00,1697.70 Z" fill="#4682b3" stroke="#5c5c5c" stroke-width="1.1" stroke-linejoin="round"/>
<line x1="317.00" y1="1674.00" x2="294.31" y2="1674.00" stroke="#5c5c5c" stroke-width="1" stroke-dasharray="1.6 0.5" opacity="0.8"/><line x1="317.00" y1="1682.60" x2="284.34" y2="1682.60" stroke="#5c5c5c" stroke-width="1.1" stroke-dasharray="3 2.2"/><line x1="317.00" y1="1686.50" x2="286.92" y2="1686.50" stroke="#5c5c5c" stroke-width="1" stroke-dasharray="1.6 0.5" opacity="0.8"/>
<line x1="317.00" y1="1679.80" x2="358.02" y2="1679.80" stroke="#5c5c5c" stroke-width="1" stroke-dasharray="1.6 0.5" opacity="0.8"/><line x1="317.00" y1="1685.00" x2="380.38" y2="1685.00" stroke="#5c5c5c" stroke-width="1.1" stroke-dasharray="3 2.2"/><line x1="317.00" y1="1687.70" x2="371.34" y2="1687.70" stroke="#5c5c5c" stroke-width="1" stroke-dasharray="1.6 0.5" opacity="0.8"/>
<path d="M475.67,1570.00 L475.67,1570.00 C475.55,1571.65 475.33,1576.35 474.97,1579.90 C474.60,1583.45 474.08,1587.52 473.47,1591.30 C472.85,1595.08 472.30,1598.82 471.27,1602.60 C470.23,1606.38 469.17,1610.20 467.27,1614.00 C465.37,1617.80 461.75,1622.73 459.87,1625.40 C457.98,1628.07 457.98,1628.10 455.97,1630.00 C453.95,1631.90 450.72,1634.52 447.77,1636.80 C444.82,1639.08 441.45,1641.42 438.27,1643.70 C435.08,1645.98 431.63,1648.23 428.67,1650.50 C425.70,1652.77 422.85,1655.02 420.47,1657.30 C418.08,1659.58 415.75,1661.92 414.37,1664.20 C412.98,1666.48 412.17,1668.73 412.17,1671.00 C412.17,1673.27 412.98,1675.52 414.37,1677.80 C415.75,1680.08 417.85,1682.42 420.47,1684.70 C423.08,1686.98 426.77,1689.23 430.07,1691.50 C433.37,1693.77 436.85,1696.02 440.27,1698.30 C443.68,1700.58 447.37,1702.92 450.57,1705.20 C453.77,1707.48 456.73,1709.73 459.47,1712.00 C462.20,1714.27 464.92,1716.52 466.97,1718.80 C469.02,1721.08 470.63,1723.98 471.77,1725.70 C472.90,1727.42 473.43,1728.53 473.77,1729.10 L475.67,1729.10 Z" fill="#b3cde1" stroke="#5c5c5c" stroke-width="1.1" stroke-linejoin="round"/>
<path d="M475.67,1296.00 L475.67,1296.00 C475.77,1301.80 475.93,1320.13 476.27,1330.80 C476.60,1341.47 477.30,1351.52 477.67,1360.00 C478.03,1368.48 478.27,1370.83 478.47,1381.70 C478.67,1392.57 478.87,1410.68 478.87,1425.20 C478.87,1439.72 478.53,1454.27 478.47,1468.80 C478.40,1483.33 478.37,1502.20 478.47,1512.40 C478.57,1522.60 478.85,1525.40 479.07,1530.00 C479.28,1534.60 479.50,1536.43 479.77,1540.00 C480.03,1543.57 480.33,1547.60 480.67,1551.40 C481.00,1555.20 481.35,1559.00 481.77,1562.80 C482.18,1566.60 482.70,1570.40 483.17,1574.20 C483.63,1578.00 484.05,1581.80 484.57,1585.60 C485.08,1589.40 485.65,1593.22 486.27,1597.00 C486.88,1600.78 487.35,1604.52 488.27,1608.30 C489.18,1612.08 490.88,1616.08 491.77,1619.70 C492.65,1623.32 492.70,1626.00 493.57,1630.00 C494.43,1634.00 496.00,1639.15 496.97,1643.70 C497.93,1648.25 498.73,1652.75 499.37,1657.30 C500.00,1661.85 500.58,1666.43 500.77,1671.00 C500.95,1675.57 500.75,1680.15 500.47,1684.70 C500.18,1689.25 499.75,1693.75 499.07,1698.30 C498.38,1702.85 497.50,1707.43 496.37,1712.00 C495.23,1716.57 493.75,1721.03 492.27,1725.70 C490.78,1730.37 488.98,1735.38 487.47,1740.00 C485.95,1744.62 484.32,1749.02 483.17,1753.40 C482.02,1757.78 481.33,1762.00 480.57,1766.30 C479.80,1770.60 479.10,1774.92 478.57,1779.20 C478.03,1783.48 477.85,1788.78 477.37,1792.00 C476.88,1795.22 475.95,1797.42 475.67,1798.50 L475.67,1798.50 Z" fill="#4682b3" stroke="#5c5c5c" stroke-width="1.1" stroke-linejoin="round"/>
<line x1="475.67" y1="1656.30" x2="421.67" y2="1656.30" stroke="#5c5c5c" stroke-width="1" stroke-dasharray="1.6 0.5" opacity="0.8"/><line x1="475.67" y1="1671.00" x2="412.17" y2="1671.00" stroke="#5c5c5c" stroke-width="1.1" stroke-dasharray="3 2.2"/><line x1="475.67" y1="1681.40" x2="417.55" y2="1681.40" stroke="#5c5c5c" stroke-width="1" stroke-dasharray="1.6 0.5" opacity="0.8"/>
<line x1="475.67" y1="1653.90" x2="498.77" y2="1653.90" stroke="#5c5c5c" stroke-width="1" stroke-dasharray="1.6 0.5" opacity="0.8"/><line x1="475.67" y1="1677.00" x2="500.64" y2="1677.00" stroke="#5c5c5c" stroke-width="1.1" stroke-dasharray="3 2.2"/><line x1="475.67" y1="1684.40" x2="500.47" y2="1684.40" stroke="#5c5c5c" stroke-width="1" stroke-dasharray="1.6 0.5" opacity="0.8"/>
<rect x="79.00" y="1270.20" width="476.00" height="552.70" fill="none" stroke="#858585" stroke-width="1.45"/>
<line x1="76.00" y1="1780.70" x2="79.00" y2="1780.70" stroke="#555" stroke-width="1.2"/>
<text x="73.50" y="1785.60" text-anchor="end" class="nm">−200</text>
<line x1="76.00" y1="1694.10" x2="79.00" y2="1694.10" stroke="#555" stroke-width="1.2"/>
<text x="73.50" y="1699.00" text-anchor="end" class="nm">0</text>
<line x1="76.00" y1="1607.50" x2="79.00" y2="1607.50" stroke="#555" stroke-width="1.2"/>
<text x="73.50" y="1612.40" text-anchor="end" class="nm">200</text>
<line x1="76.00" y1="1520.90" x2="79.00" y2="1520.90" stroke="#555" stroke-width="1.2"/>
<text x="73.50" y="1525.80" text-anchor="end" class="nm">400</text>
<line x1="76.00" y1="1434.30" x2="79.00" y2="1434.30" stroke="#555" stroke-width="1.2"/>
<text x="73.50" y="1439.20" text-anchor="end" class="nm">600</text>
<line x1="76.00" y1="1347.70" x2="79.00" y2="1347.70" stroke="#555" stroke-width="1.2"/>
<text x="73.50" y="1352.60" text-anchor="end" class="nm">800</text>
<line x1="158.33" y1="1822.90" x2="158.33" y2="1825.90" stroke="#555" stroke-width="1.2"/>
<text x="158.33" y="1838.80" text-anchor="middle" class="tk">Diabetes Mellitus</text>
<line x1="317.00" y1="1822.90" x2="317.00" y2="1825.90" stroke="#555" stroke-width="1.2"/>
<text x="317.00" y="1838.80" text-anchor="middle" class="tk">Cancer</text>
<line x1="475.67" y1="1822.90" x2="475.67" y2="1825.90" stroke="#555" stroke-width="1.2"/>
<text x="475.67" y="1838.80" text-anchor="middle" class="tk">Hepatic Insufficiency</text>
<text x="317.00" y="1853.90" text-anchor="middle" class="xl">stra_lbl</text>
<text transform="translate(41.00,1551.00) rotate(-90)" text-anchor="middle" class="yl">ALT</text>
<rect x="457.90" y="1276.90" width="90.30" height="53.50" rx="3" ry="3" fill="#fff" fill-opacity="0.8" stroke="#d6d6d6" stroke-width="1.1"/>
<text x="503.05" y="1292.10" text-anchor="middle" class="lg">Group</text>
<rect x="463.10" y="1299.20" width="26" height="9.2" fill="#b3cde1" stroke="#8fa9bd" stroke-width="0.8"/>
<rect x="463.10" y="1316.70" width="26" height="9.2" fill="#4682b3" stroke="#3f73a0" stroke-width="0.8"/>
<text x="499.70" y="1309.10" class="lg">Control</text>
<text x="499.70" y="1326.40" class="lg">AKI</text>
<text x="1.70" y="1305.30" class="pl">G</text>
<path d="M751.83,1296.00 L751.83,1296.00 C751.73,1310.22 751.38,1356.13 751.23,1381.30 C751.08,1406.47 751.03,1430.58 750.93,1447.00 C750.83,1463.42 750.65,1472.63 750.63,1479.80 C750.62,1486.97 751.17,1485.88 750.83,1490.00 C750.50,1494.12 749.60,1499.67 748.63,1504.50 C747.67,1509.33 746.37,1514.17 745.03,1519.00 C743.70,1523.83 742.08,1528.67 740.63,1533.50 C739.18,1538.33 737.65,1543.17 736.33,1548.00 C735.02,1552.83 733.82,1557.67 732.73,1562.50 C731.65,1567.33 730.82,1572.15 729.83,1577.00 C728.85,1581.85 727.93,1586.75 726.83,1591.60 C725.73,1596.45 724.32,1601.27 723.23,1606.10 C722.15,1610.93 721.18,1615.77 720.33,1620.60 C719.48,1625.43 718.62,1630.27 718.13,1635.10 C717.65,1639.93 716.95,1644.77 717.43,1649.60 C717.92,1654.43 719.33,1659.27 721.03,1664.10 C722.73,1668.93 725.33,1673.77 727.63,1678.60 C729.93,1683.43 732.53,1688.27 734.83,1693.10 C737.13,1697.93 739.50,1702.77 741.43,1707.60 C743.37,1712.43 744.98,1717.27 746.43,1722.10 C747.88,1726.93 749.23,1732.25 750.13,1736.60 C751.03,1740.95 751.55,1746.27 751.83,1748.20 L751.83,1748.20 Z" fill="#b3cde1" stroke="#5c5c5c" stroke-width="1.1" stroke-linejoin="round"/>
<path d="M751.83,1518.30 L752.53,1518.30 C753.22,1520.83 755.23,1528.55 756.63,1533.50 C758.03,1538.45 759.85,1543.17 760.93,1548.00 C762.02,1552.83 762.83,1557.67 763.13,1562.50 C763.43,1567.33 762.97,1572.15 762.73,1577.00 C762.50,1581.85 761.90,1586.75 761.73,1591.60 C761.57,1596.45 761.25,1601.27 761.73,1606.10 C762.22,1610.93 762.35,1615.77 764.63,1620.60 C766.92,1625.43 770.48,1630.27 775.43,1635.10 C780.38,1639.93 788.28,1644.77 794.33,1649.60 C800.38,1654.43 808.23,1660.48 811.73,1664.10 C815.23,1667.72 815.57,1668.88 815.33,1671.30 C815.10,1673.72 814.55,1674.97 810.33,1678.60 C806.12,1682.23 796.82,1688.27 790.03,1693.10 C783.25,1697.93 774.97,1702.77 769.63,1707.60 C764.30,1712.43 760.88,1717.27 758.03,1722.10 C755.18,1726.93 753.45,1734.18 752.53,1736.60 L751.83,1736.60 Z" fill="#4682b3" stroke="#5c5c5c" stroke-width="1.1" stroke-linejoin="round"/>
<line x1="751.83" y1="1589.10" x2="727.35" y2="1589.10" stroke="#5c5c5c" stroke-width="1" stroke-dasharray="1.6 0.5" opacity="0.8"/><line x1="751.83" y1="1625.20" x2="719.64" y2="1625.20" stroke="#5c5c5c" stroke-width="1.1" stroke-dasharray="3 2.2"/><line x1="751.83" y1="1657.60" x2="719.42" y2="1657.60" stroke="#5c5c5c" stroke-width="1" stroke-dasharray="1.6 0.5" opacity="0.8"/>
<line x1="751.83" y1="1662.60" x2="809.93" y2="1662.60" stroke="#5c5c5c" stroke-width="1" stroke-dasharray="1.6 0.5" opacity="0.8"/><line x1="751.83" y1="1665.80" x2="812.58" y2="1665.80" stroke="#5c5c5c" stroke-width="1.1" stroke-dasharray="3 2.2"/><line x1="751.83" y1="1675.70" x2="812.32" y2="1675.70" stroke="#5c5c5c" stroke-width="1" stroke-dasharray="1.6 0.5" opacity="0.8"/>
<path d="M910.70,1308.40 L910.70,1308.40 C910.60,1320.55 910.27,1358.20 910.10,1381.30 C909.93,1404.40 909.77,1432.68 909.70,1447.00 C909.63,1461.32 910.00,1458.10 909.70,1467.20 C909.40,1476.30 908.62,1490.13 907.90,1501.60 C907.18,1513.07 906.12,1527.40 905.40,1536.00 C904.68,1544.60 904.47,1547.47 903.60,1553.20 C902.73,1558.93 901.63,1564.67 900.20,1570.40 C898.77,1576.13 897.00,1581.87 895.00,1587.60 C893.00,1593.33 890.77,1599.07 888.20,1604.80 C885.63,1610.53 882.77,1616.27 879.60,1622.00 C876.43,1627.73 872.93,1633.47 869.20,1639.20 C865.47,1644.93 860.63,1650.67 857.20,1656.40 C853.77,1662.13 850.32,1669.30 848.60,1673.60 C846.88,1677.90 846.62,1679.33 846.90,1682.20 C847.18,1685.07 846.87,1686.50 850.30,1690.80 C853.73,1695.10 860.90,1702.27 867.50,1708.00 C874.10,1713.73 884.45,1720.88 889.90,1725.20 C895.35,1729.52 897.62,1731.32 900.20,1733.90 C902.78,1736.48 904.53,1739.57 905.40,1740.70 L910.70,1740.70 Z" fill="#b3cde1" stroke="#5c5c5c" stroke-width="1.1" stroke-linejoin="round"/>
<path d="M910.70,1461.20 L911.00,1461.20 C911.35,1465.07 912.32,1477.67 913.10,1484.40 C913.88,1491.13 914.70,1495.87 915.70,1501.60 C916.70,1507.33 917.95,1513.07 919.10,1518.80 C920.25,1524.53 921.45,1530.27 922.60,1536.00 C923.75,1541.73 924.72,1547.47 926.00,1553.20 C927.28,1558.93 928.72,1564.67 930.30,1570.40 C931.88,1576.13 933.63,1581.87 935.50,1587.60 C937.37,1593.33 939.50,1599.07 941.50,1604.80 C943.50,1610.53 945.50,1616.27 947.50,1622.00 C949.50,1627.73 951.92,1633.47 953.50,1639.20 C955.08,1644.93 956.42,1652.10 957.00,1656.40 C957.58,1660.70 957.28,1662.13 957.00,1665.00 C956.72,1667.87 956.73,1669.30 955.30,1673.60 C953.87,1677.90 951.57,1685.07 948.40,1690.80 C945.23,1696.53 940.32,1702.27 936.30,1708.00 C932.28,1713.73 927.73,1719.45 924.30,1725.20 C920.87,1730.95 917.72,1736.75 915.70,1742.50 C913.68,1748.25 912.78,1756.83 912.20,1759.70 L910.70,1759.70 Z" fill="#4682b3" stroke="#5c5c5c" stroke-width="1.1" stroke-linejoin="round"/>
<line x1="910.70" y1="1629.40" x2="875.13" y2="1629.40" stroke="#5c5c5c" stroke-width="1" stroke-dasharray="1.6 0.5" opacity="0.8"/><line x1="910.70" y1="1668.50" x2="851.15" y2="1668.50" stroke="#5c5c5c" stroke-width="1.1" stroke-dasharray="3 2.2"/><line x1="910.70" y1="1693.80" x2="853.30" y2="1693.80" stroke="#5c5c5c" stroke-width="1" stroke-dasharray="1.6 0.5" opacity="0.8"/>
<line x1="910.70" y1="1624.60" x2="948.41" y2="1624.60" stroke="#5c5c5c" stroke-width="1" stroke-dasharray="1.6 0.5" opacity="0.8"/><line x1="910.70" y1="1646.60" x2="955.01" y2="1646.60" stroke="#5c5c5c" stroke-width="1.1" stroke-dasharray="3 2.2"/><line x1="910.70" y1="1683.40" x2="951.37" y2="1683.40" stroke="#5c5c5c" stroke-width="1" stroke-dasharray="1.6 0.5" opacity="0.8"/>
<path d="M1069.57,1440.70 L1069.57,1440.70 C1069.32,1444.23 1068.63,1454.42 1068.07,1461.90 C1067.50,1469.38 1066.77,1477.70 1066.17,1485.60 C1065.57,1493.50 1065.53,1501.42 1064.47,1509.30 C1063.40,1517.18 1062.33,1525.02 1059.77,1532.90 C1057.20,1540.78 1052.82,1548.72 1049.07,1556.60 C1045.32,1564.48 1040.82,1572.32 1037.27,1580.20 C1033.72,1588.08 1031.72,1596.02 1027.77,1603.90 C1023.82,1611.78 1017.18,1619.62 1013.57,1627.50 C1009.95,1635.38 1007.05,1645.28 1006.07,1651.20 C1005.08,1657.12 1006.02,1659.05 1007.67,1663.00 C1009.32,1666.95 1010.25,1668.98 1015.97,1674.90 C1021.68,1680.82 1034.08,1690.62 1041.97,1698.50 C1049.85,1706.38 1058.92,1716.28 1063.27,1722.20 C1067.62,1728.12 1067.27,1732.03 1068.07,1734.00 L1069.57,1734.00 Z" fill="#b3cde1" stroke="#5c5c5c" stroke-width="1.1" stroke-linejoin="round"/>
<path d="M1069.57,1329.50 L1069.57,1329.50 C1070.10,1335.80 1071.25,1353.12 1072.77,1367.30 C1074.28,1381.48 1076.30,1398.83 1078.67,1414.60 C1081.03,1430.37 1084.72,1450.07 1086.97,1461.90 C1089.22,1473.73 1090.58,1477.70 1092.17,1485.60 C1093.75,1493.50 1095.55,1501.42 1096.47,1509.30 C1097.38,1517.18 1097.47,1525.02 1097.67,1532.90 C1097.87,1540.78 1097.80,1548.72 1097.67,1556.60 C1097.53,1564.48 1097.07,1572.32 1096.87,1580.20 C1096.67,1588.08 1096.62,1596.02 1096.47,1603.90 C1096.32,1611.78 1096.37,1619.62 1095.97,1627.50 C1095.57,1635.38 1094.98,1643.30 1094.07,1651.20 C1093.15,1659.10 1092.05,1667.02 1090.47,1674.90 C1088.88,1682.78 1086.53,1690.62 1084.57,1698.50 C1082.60,1706.38 1080.25,1715.28 1078.67,1722.20 C1077.08,1729.12 1076.05,1733.82 1075.07,1740.00 C1074.08,1746.18 1073.37,1752.85 1072.77,1759.30 C1072.17,1765.75 1071.83,1773.05 1071.47,1778.70 C1071.10,1784.35 1070.82,1789.98 1070.57,1793.20 C1070.32,1796.42 1070.07,1797.20 1069.97,1798.00 L1069.57,1798.00 Z" fill="#4682b3" stroke="#5c5c5c" stroke-width="1.1" stroke-linejoin="round"/>
<line x1="1069.57" y1="1605.80" x2="1026.62" y2="1605.80" stroke="#5c5c5c" stroke-width="1" stroke-dasharray="1.6 0.5" opacity="0.8"/><line x1="1069.57" y1="1641.00" x2="1009.29" y2="1641.00" stroke="#5c5c5c" stroke-width="1.1" stroke-dasharray="3 2.2"/><line x1="1069.57" y1="1668.20" x2="1011.29" y2="1668.20" stroke="#5c5c5c" stroke-width="1" stroke-dasharray="1.6 0.5" opacity="0.8"/>
<line x1="1069.57" y1="1516.40" x2="1096.83" y2="1516.40" stroke="#5c5c5c" stroke-width="1" stroke-dasharray="1.6 0.5" opacity="0.8"/><line x1="1069.57" y1="1556.60" x2="1097.67" y2="1556.60" stroke="#5c5c5c" stroke-width="1.1" stroke-dasharray="3 2.2"/><line x1="1069.57" y1="1635.80" x2="1095.30" y2="1635.80" stroke="#5c5c5c" stroke-width="1" stroke-dasharray="1.6 0.5" opacity="0.8"/>
<rect x="672.40" y="1270.20" width="476.60" height="552.70" fill="none" stroke="#858585" stroke-width="1.45"/>
<line x1="669.40" y1="1790.30" x2="672.40" y2="1790.30" stroke="#555" stroke-width="1.2"/>
<text x="666.90" y="1795.20" text-anchor="end" class="nm">−10</text>
<line x1="669.40" y1="1697.10" x2="672.40" y2="1697.10" stroke="#555" stroke-width="1.2"/>
<text x="666.90" y="1702.00" text-anchor="end" class="nm">0</text>
<line x1="669.40" y1="1603.90" x2="672.40" y2="1603.90" stroke="#555" stroke-width="1.2"/>
<text x="666.90" y="1608.80" text-anchor="end" class="nm">10</text>
<line x1="669.40" y1="1510.70" x2="672.40" y2="1510.70" stroke="#555" stroke-width="1.2"/>
<text x="666.90" y="1515.60" text-anchor="end" class="nm">20</text>
<line x1="669.40" y1="1417.50" x2="672.40" y2="1417.50" stroke="#555" stroke-width="1.2"/>
<text x="666.90" y="1422.40" text-anchor="end" class="nm">30</text>
<line x1="669.40" y1="1324.30" x2="672.40" y2="1324.30" stroke="#555" stroke-width="1.2"/>
<text x="666.90" y="1329.20" text-anchor="end" class="nm">40</text>
<line x1="751.83" y1="1822.90" x2="751.83" y2="1825.90" stroke="#555" stroke-width="1.2"/>
<text x="751.83" y="1838.80" text-anchor="middle" class="tk">Diabetes Mellitus</text>
<line x1="910.70" y1="1822.90" x2="910.70" y2="1825.90" stroke="#555" stroke-width="1.2"/>
<text x="910.70" y="1838.80" text-anchor="middle" class="tk">Cancer</text>
<line x1="1069.57" y1="1822.90" x2="1069.57" y2="1825.90" stroke="#555" stroke-width="1.2"/>
<text x="1069.57" y="1838.80" text-anchor="middle" class="tk">Hepatic Insufficiency</text>
<text x="910.70" y="1853.90" text-anchor="middle" class="xl">stra_lbl</text>
<text transform="translate(640.50,1554.40) rotate(-90)" text-anchor="middle" class="yl">NEUT#</text>
<rect x="1051.40" y="1276.90" width="90.90" height="54.20" rx="3" ry="3" fill="#fff" fill-opacity="0.8" stroke="#d6d6d6" stroke-width="1.1"/>
<text x="1096.85" y="1292.10" text-anchor="middle" class="lg">Group</text>
<rect x="1056.60" y="1299.20" width="26" height="9.2" fill="#b3cde1" stroke="#8fa9bd" stroke-width="0.8"/>
<rect x="1056.60" y="1316.70" width="26" height="9.2" fill="#4682b3" stroke="#3f73a0" stroke-width="0.8"/>
<text x="1093.20" y="1309.10" class="lg">Control</text>
<text x="1093.20" y="1326.40" class="lg">AKI</text>
<text x="590.00" y="1305.50" class="pl">H</text>
<path d="M1344.75,1335.10 L1344.75,1335.10 C1344.52,1337.97 1344.58,1345.85 1343.35,1352.30 C1342.12,1358.75 1339.43,1366.63 1337.35,1373.80 C1335.27,1380.97 1333.00,1388.13 1330.85,1395.30 C1328.70,1402.47 1326.23,1409.63 1324.45,1416.80 C1322.67,1423.97 1321.40,1431.13 1320.15,1438.30 C1318.90,1445.47 1317.95,1452.63 1316.95,1459.80 C1315.95,1466.97 1315.23,1474.13 1314.15,1481.30 C1313.07,1488.47 1311.60,1495.63 1310.45,1502.80 C1309.30,1509.97 1308.50,1517.13 1307.25,1524.30 C1306.00,1531.47 1303.97,1538.63 1302.95,1545.80 C1301.93,1552.97 1301.15,1560.13 1301.15,1567.30 C1301.15,1574.47 1301.22,1581.63 1302.95,1588.80 C1304.68,1595.97 1308.33,1603.13 1311.55,1610.30 C1314.77,1617.47 1319.72,1626.85 1322.25,1631.80 C1324.78,1636.75 1325.15,1636.73 1326.75,1640.00 C1328.35,1643.27 1330.23,1647.60 1331.85,1651.40 C1333.47,1655.20 1335.02,1659.00 1336.45,1662.80 C1337.88,1666.60 1339.40,1670.40 1340.45,1674.20 C1341.50,1678.00 1342.18,1681.80 1342.75,1685.60 C1343.32,1689.40 1343.52,1693.22 1343.85,1697.00 C1344.18,1700.78 1344.60,1706.42 1344.75,1708.30 L1344.75,1708.30 Z" fill="#b3cde1" stroke="#5c5c5c" stroke-width="1.1" stroke-linejoin="round"/>
<path d="M1344.75,1355.50 L1346.35,1355.50 C1347.17,1358.55 1349.53,1367.17 1351.25,1373.80 C1352.97,1380.43 1355.22,1388.13 1356.65,1395.30 C1358.08,1402.47 1359.32,1409.63 1359.85,1416.80 C1360.38,1423.97 1359.95,1431.13 1359.85,1438.30 C1359.75,1445.47 1359.42,1452.63 1359.25,1459.80 C1359.08,1466.97 1358.57,1474.13 1358.85,1481.30 C1359.13,1488.47 1358.98,1495.63 1360.95,1502.80 C1362.92,1509.97 1366.35,1517.13 1370.65,1524.30 C1374.95,1531.47 1381.20,1538.63 1386.75,1545.80 C1392.30,1552.97 1400.37,1560.85 1403.95,1567.30 C1407.53,1573.75 1408.60,1579.12 1408.25,1584.50 C1407.90,1589.88 1405.78,1593.50 1401.85,1599.60 C1397.92,1605.70 1390.05,1614.37 1384.65,1621.10 C1379.25,1627.83 1373.30,1634.95 1369.45,1640.00 C1365.60,1645.05 1364.02,1647.60 1361.55,1651.40 C1359.08,1655.20 1356.65,1659.00 1354.65,1662.80 C1352.65,1666.60 1350.78,1670.78 1349.55,1674.20 C1348.32,1677.62 1347.63,1681.78 1347.25,1683.30 L1344.75,1683.30 Z" fill="#4682b3" stroke="#5c5c5c" stroke-width="1.1" stroke-linejoin="round"/>
<line x1="1344.75" y1="1491.00" x2="1312.48" y2="1491.00" stroke="#5c5c5c" stroke-width="1" stroke-dasharray="1.6 0.5" opacity="0.8"/><line x1="1344.75" y1="1536.60" x2="1304.79" y2="1536.60" stroke="#5c5c5c" stroke-width="1.1" stroke-dasharray="3 2.2"/><line x1="1344.75" y1="1581.30" x2="1302.32" y2="1581.30" stroke="#5c5c5c" stroke-width="1" stroke-dasharray="1.6 0.5" opacity="0.8"/>
<line x1="1344.75" y1="1541.50" x2="1383.53" y2="1541.50" stroke="#5c5c5c" stroke-width="1" stroke-dasharray="1.6 0.5" opacity="0.8"/><line x1="1344.75" y1="1578.70" x2="1406.80" y2="1578.70" stroke="#5c5c5c" stroke-width="1.1" stroke-dasharray="3 2.2"/><line x1="1344.75" y1="1593.50" x2="1404.44" y2="1593.50" stroke="#5c5c5c" stroke-width="1" stroke-dasharray="1.6 0.5" opacity="0.8"/>
<path d="M1503.65,1338.80 L1503.65,1338.80 C1503.48,1347.85 1503.15,1379.83 1502.65,1393.10 C1502.15,1406.37 1501.75,1409.98 1500.65,1418.40 C1499.55,1426.82 1497.73,1435.18 1496.05,1443.60 C1494.37,1452.02 1492.52,1460.48 1490.55,1468.90 C1488.58,1477.32 1486.37,1485.68 1484.25,1494.10 C1482.13,1502.52 1479.53,1510.98 1477.85,1519.40 C1476.17,1527.82 1474.87,1536.18 1474.15,1544.60 C1473.43,1553.02 1473.55,1561.47 1473.55,1569.90 C1473.55,1578.33 1474.48,1586.78 1474.15,1595.20 C1473.82,1603.62 1472.62,1611.98 1471.55,1620.40 C1470.48,1628.82 1468.38,1639.38 1467.75,1645.70 C1467.12,1652.02 1466.48,1652.00 1467.75,1658.30 C1469.02,1664.60 1472.18,1675.08 1475.35,1683.50 C1478.52,1691.92 1483.17,1700.38 1486.75,1708.80 C1490.33,1717.22 1494.33,1725.58 1496.85,1734.00 C1499.37,1742.42 1500.80,1750.88 1501.85,1759.30 C1502.90,1767.72 1502.85,1778.62 1503.15,1784.50 C1503.45,1790.38 1503.57,1792.92 1503.65,1794.60 L1503.65,1794.60 Z" fill="#b3cde1" stroke="#5c5c5c" stroke-width="1.1" stroke-linejoin="round"/>
<path d="M1503.65,1467.60 L1504.65,1467.60 C1505.67,1472.02 1508.90,1485.47 1510.75,1494.10 C1512.60,1502.73 1513.87,1510.98 1515.75,1519.40 C1517.63,1527.82 1517.83,1536.18 1522.05,1544.60 C1526.27,1553.02 1535.78,1563.58 1541.05,1569.90 C1546.32,1576.22 1549.87,1578.28 1553.65,1582.50 C1557.43,1586.72 1561.65,1591.40 1563.75,1595.20 C1565.85,1599.00 1567.08,1601.10 1566.25,1605.30 C1565.42,1609.50 1561.70,1615.78 1558.75,1620.40 C1555.80,1625.02 1552.35,1626.68 1548.55,1633.00 C1544.75,1639.32 1539.73,1649.88 1535.95,1658.30 C1532.17,1666.72 1529.42,1675.08 1525.85,1683.50 C1522.28,1691.92 1517.83,1700.38 1514.55,1708.80 C1511.27,1717.22 1507.72,1728.32 1506.15,1734.00 C1504.58,1739.68 1505.32,1741.42 1505.15,1742.90 L1503.65,1742.90 Z" fill="#4682b3" stroke="#5c5c5c" stroke-width="1.1" stroke-linejoin="round"/>
<line x1="1503.65" y1="1540.90" x2="1474.69" y2="1540.90" stroke="#5c5c5c" stroke-width="1" stroke-dasharray="1.6 0.5" opacity="0.8"/><line x1="1503.65" y1="1593.90" x2="1474.12" y2="1593.90" stroke="#5c5c5c" stroke-width="1.1" stroke-dasharray="3 2.2"/><line x1="1503.65" y1="1655.80" x2="1467.75" y2="1655.80" stroke="#5c5c5c" stroke-width="1" stroke-dasharray="1.6 0.5" opacity="0.8"/>
<line x1="1503.65" y1="1594.60" x2="1563.27" y2="1594.60" stroke="#5c5c5c" stroke-width="1" stroke-dasharray="1.6 0.5" opacity="0.8"/><line x1="1503.65" y1="1604.70" x2="1566.10" y2="1604.70" stroke="#5c5c5c" stroke-width="1.1" stroke-dasharray="3 2.2"/><line x1="1503.65" y1="1628.70" x2="1552.03" y2="1628.70" stroke="#5c5c5c" stroke-width="1" stroke-dasharray="1.6 0.5" opacity="0.8"/>
<path d="M1662.55,1296.00 L1662.55,1296.00 C1662.12,1301.85 1660.53,1318.38 1659.95,1331.10 C1659.37,1343.82 1659.52,1360.87 1659.05,1372.30 C1658.58,1383.73 1658.83,1390.57 1657.15,1399.70 C1655.47,1408.83 1652.83,1417.97 1648.95,1427.10 C1645.07,1436.23 1639.57,1445.37 1633.85,1454.50 C1628.13,1463.63 1619.90,1473.67 1614.65,1481.90 C1609.40,1490.13 1604.85,1497.03 1602.35,1503.90 C1599.85,1510.77 1599.20,1515.33 1599.65,1523.10 C1600.10,1530.87 1602.08,1541.37 1605.05,1550.50 C1608.02,1559.63 1614.02,1568.77 1617.45,1577.90 C1620.88,1587.03 1622.68,1596.17 1625.65,1605.30 C1628.62,1614.43 1632.05,1623.55 1635.25,1632.70 C1638.45,1641.85 1642.12,1651.05 1644.85,1660.20 C1647.58,1669.35 1649.60,1678.47 1651.65,1687.60 C1653.70,1696.73 1655.77,1705.87 1657.15,1715.00 C1658.53,1724.13 1659.27,1733.27 1659.95,1742.40 C1660.63,1751.53 1660.82,1761.12 1661.25,1769.80 C1661.68,1778.48 1662.33,1790.38 1662.55,1794.50 L1662.55,1794.50 Z" fill="#b3cde1" stroke="#5c5c5c" stroke-width="1.1" stroke-linejoin="round"/>
<path d="M1662.55,1394.20 L1663.55,1394.20 C1665.00,1399.68 1669.65,1417.05 1672.25,1427.10 C1674.85,1437.15 1677.10,1445.37 1679.15,1454.50 C1681.20,1463.63 1683.18,1472.75 1684.55,1481.90 C1685.92,1491.05 1686.20,1500.25 1687.35,1509.40 C1688.50,1518.55 1689.40,1527.67 1691.45,1536.80 C1693.50,1545.93 1696.00,1555.07 1699.65,1564.20 C1703.30,1573.33 1709.23,1582.47 1713.35,1591.60 C1717.47,1600.73 1722.52,1612.15 1724.35,1619.00 C1726.18,1625.85 1726.18,1625.83 1724.35,1632.70 C1722.52,1639.57 1717.92,1651.05 1713.35,1660.20 C1708.78,1669.35 1702.43,1678.47 1696.95,1687.60 C1691.47,1696.73 1685.02,1705.87 1680.45,1715.00 C1675.88,1724.13 1672.28,1733.27 1669.55,1742.40 C1666.82,1751.53 1665.05,1763.87 1664.05,1769.80 C1663.05,1775.73 1663.63,1776.63 1663.55,1778.00 L1662.55,1778.00 Z" fill="#4682b3" stroke="#5c5c5c" stroke-width="1.1" stroke-linejoin="round"/>
<line x1="1662.55" y1="1502.00" x2="1603.41" y2="1502.00" stroke="#5c5c5c" stroke-width="1" stroke-dasharray="1.6 0.5" opacity="0.8"/><line x1="1662.55" y1="1535.40" x2="1602.07" y2="1535.40" stroke="#5c5c5c" stroke-width="1.1" stroke-dasharray="3 2.2"/><line x1="1662.55" y1="1594.90" x2="1622.54" y2="1594.90" stroke="#5c5c5c" stroke-width="1" stroke-dasharray="1.6 0.5" opacity="0.8"/>
<line x1="1662.55" y1="1570.20" x2="1702.65" y2="1570.20" stroke="#5c5c5c" stroke-width="1" stroke-dasharray="1.6 0.5" opacity="0.8"/><line x1="1662.55" y1="1614.90" x2="1722.70" y2="1614.90" stroke="#5c5c5c" stroke-width="1.1" stroke-dasharray="3 2.2"/><line x1="1662.55" y1="1631.40" x2="1724.35" y2="1631.40" stroke="#5c5c5c" stroke-width="1" stroke-dasharray="1.6 0.5" opacity="0.8"/>
<rect x="1265.30" y="1270.20" width="476.70" height="552.70" fill="none" stroke="#858585" stroke-width="1.45"/>
<line x1="1262.30" y1="1778.50" x2="1265.30" y2="1778.50" stroke="#555" stroke-width="1.2"/>
<text x="1259.80" y="1783.40" text-anchor="end" class="nm">1</text>
<line x1="1262.30" y1="1685.28" x2="1265.30" y2="1685.28" stroke="#555" stroke-width="1.2"/>
<text x="1259.80" y="1690.18" text-anchor="end" class="nm">2</text>
<line x1="1262.30" y1="1592.06" x2="1265.30" y2="1592.06" stroke="#555" stroke-width="1.2"/>
<text x="1259.80" y="1596.96" text-anchor="end" class="nm">3</text>
<line x1="1262.30" y1="1498.84" x2="1265.30" y2="1498.84" stroke="#555" stroke-width="1.2"/>
<text x="1259.80" y="1503.74" text-anchor="end" class="nm">4</text>
<line x1="1262.30" y1="1405.62" x2="1265.30" y2="1405.62" stroke="#555" stroke-width="1.2"/>
<text x="1259.80" y="1410.52" text-anchor="end" class="nm">5</text>
<line x1="1262.30" y1="1312.40" x2="1265.30" y2="1312.40" stroke="#555" stroke-width="1.2"/>
<text x="1259.80" y="1317.30" text-anchor="end" class="nm">6</text>
<line x1="1344.75" y1="1822.90" x2="1344.75" y2="1825.90" stroke="#555" stroke-width="1.2"/>
<text x="1344.75" y="1838.80" text-anchor="middle" class="tk">Diabetes Mellitus</text>
<line x1="1503.65" y1="1822.90" x2="1503.65" y2="1825.90" stroke="#555" stroke-width="1.2"/>
<text x="1503.65" y="1838.80" text-anchor="middle" class="tk">Cancer</text>
<line x1="1662.55" y1="1822.90" x2="1662.55" y2="1825.90" stroke="#555" stroke-width="1.2"/>
<text x="1662.55" y="1838.80" text-anchor="middle" class="tk">Hepatic Insufficiency</text>
<text x="1503.65" y="1853.90" text-anchor="middle" class="xl">stra_lbl</text>
<text transform="translate(1248.00,1554.60) rotate(-90)" text-anchor="middle" class="yl">RBC</text>
<rect x="1644.10" y="1276.90" width="90.20" height="53.50" rx="3" ry="3" fill="#fff" fill-opacity="0.8" stroke="#d6d6d6" stroke-width="1.1"/>
<text x="1689.20" y="1292.10" text-anchor="middle" class="lg">Group</text>
<rect x="1649.30" y="1299.20" width="26" height="9.2" fill="#b3cde1" stroke="#8fa9bd" stroke-width="0.8"/>
<rect x="1649.30" y="1316.70" width="26" height="9.2" fill="#4682b3" stroke="#3f73a0" stroke-width="0.8"/>
<text x="1685.90" y="1309.10" class="lg">Control</text>
<text x="1685.90" y="1326.40" class="lg">AKI</text>
<text x="1213.80" y="1305.50" class="pl">I</text>
</svg>
</body></html>
